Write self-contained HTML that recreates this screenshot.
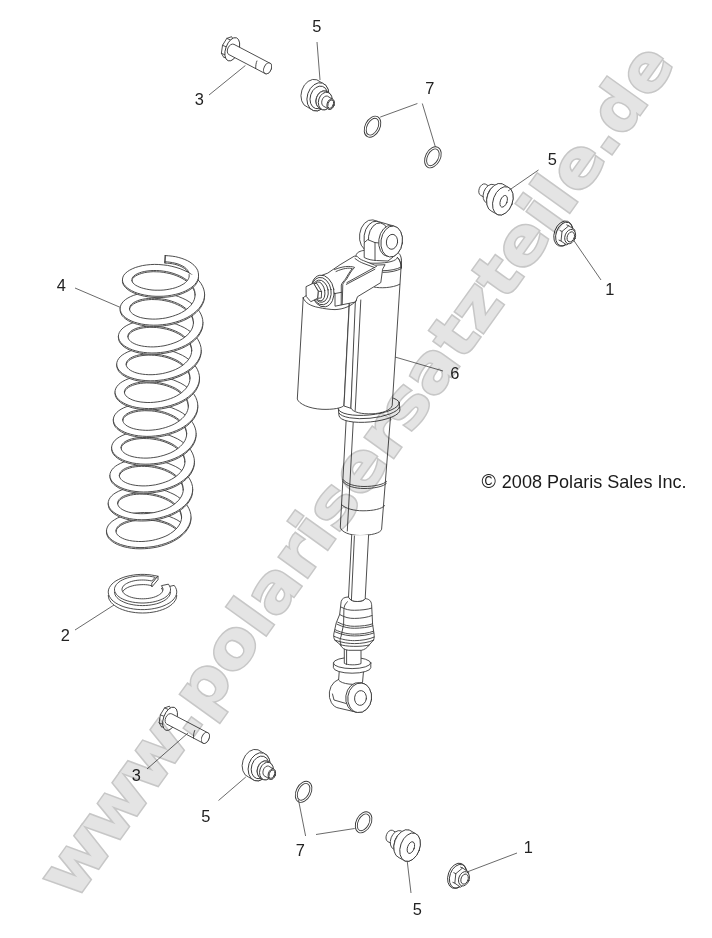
<!DOCTYPE html>
<html><head><meta charset="utf-8"><title>Shock diagram</title>
<style>
html,body{margin:0;padding:0;background:#fff;}
body{width:712px;height:938px;overflow:hidden;position:relative;font-family:"Liberation Sans",sans-serif;}
svg{position:absolute;left:0;top:0;display:block;}
.z *{vector-effect:non-scaling-stroke;}
.d{fill:#fff;stroke:#3a3a3a;stroke-width:0.9;stroke-linejoin:round;stroke-linecap:round;}
.n{fill:none;}
.lab text{font-family:"Liberation Sans",sans-serif;font-size:16.4px;fill:#222;stroke:none;}
.lead line{stroke:#444;stroke-width:0.8;}
.wm{mix-blend-mode:multiply;}
.wm text{font-family:"DejaVu Sans","Liberation Sans",sans-serif;font-weight:bold;font-size:64px;}
.wa{fill:#e4e4e4;stroke:#c7c7c7;stroke-width:3.0;stroke-linejoin:miter;paint-order:stroke fill;}
.copy{font-family:"Liberation Sans",sans-serif;font-size:18.4px;fill:#1a1a1a;}
</style></head><body>
<svg width="712" height="938" viewBox="0 0 712 938">
<rect width="712" height="938" fill="#fff"/>
<g class="d">
<g id="spring"><polygon points="164.9,261.8 167.4,261.9 169.9,262.2 172.4,262.6 174.8,263.1 177.0,263.7 179.2,264.4 181.1,265.3 182.9,266.2 184.5,267.2 185.9,268.3 187.0,269.5 187.9,270.7 188.6,272.0 189.0,273.3 189.1,274.6 189.1,275.9 189.0,274.5 188.6,273.3 187.9,272.0 187.0,270.8 185.9,269.6 184.5,268.5 182.9,267.5 181.1,266.5 179.2,265.7 177.0,264.9 174.8,264.3 172.4,263.8 169.9,263.4 167.4,263.2 164.9,263.1" stroke="none"/><polyline class="n" points="164.9,263.1 167.4,263.2 169.9,263.4 172.4,263.8 174.8,264.3 177.0,264.9 179.2,265.7 181.1,266.5 182.9,267.5 184.5,268.5 185.9,269.6 187.0,270.8 187.9,272.0 188.6,273.3 189.0,274.5 189.1,275.9"/><polygon points="165.2,255.6 168.7,255.8 172.2,256.2 175.6,256.7 178.8,257.5 181.9,258.4 184.8,259.5 187.5,260.7 190.0,262.1 192.2,263.7 194.1,265.3 195.6,267.0 196.9,268.9 197.8,270.7 198.3,272.7 198.5,274.6 189.1,274.6 189.0,273.3 188.6,272.0 187.9,270.7 187.0,269.5 185.9,268.3 184.5,267.2 182.9,266.2 181.1,265.3 179.2,264.4 177.0,263.7 174.8,263.1 172.4,262.6 169.9,262.2 167.4,261.9 164.9,261.8" stroke="none"/><polyline class="n" points="165.2,255.6 168.7,255.8 172.2,256.2 175.6,256.7 178.8,257.5 181.9,258.4 184.8,259.5 187.5,260.7 190.0,262.1 192.2,263.7 194.1,265.3 195.6,267.0 196.9,268.9 197.8,270.7 198.3,272.7 198.5,274.6"/><polyline class="n" points="164.9,261.8 167.4,261.9 169.9,262.2 172.4,262.6 174.8,263.1 177.0,263.7 179.2,264.4 181.1,265.3 182.9,266.2 184.5,267.2 185.9,268.3 187.0,269.5 187.9,270.7 188.6,272.0 189.0,273.3 189.1,274.6"/>
<polygon points="131.9,280.9 131.9,279.6 132.1,278.4 132.8,277.1 133.9,275.9 135.4,274.8 137.2,273.8 139.3,272.9 141.7,272.1 144.3,271.5 147.1,271.0 150.1,270.7 153.2,270.5 156.5,270.5 159.8,270.7 163.2,271.1 166.5,271.6 169.9,272.4 173.1,273.3 176.2,274.4 179.2,275.6 182.0,277.0 184.7,278.6 187.0,280.3 189.1,282.2 191.0,284.1 192.5,286.1 193.6,288.2 194.5,290.4 195.0,292.6 195.2,294.8 195.2,296.0 195.0,293.8 194.5,291.6 193.6,289.5 192.5,287.4 191.0,285.3 189.1,283.4 187.0,281.6 184.7,279.9 182.0,278.3 179.2,276.9 176.2,275.6 173.1,274.5 169.9,273.6 166.5,272.9 163.2,272.3 159.8,271.9 156.5,271.8 153.2,271.7 150.1,271.9 147.1,272.2 144.3,272.7 141.7,273.4 139.3,274.2 137.2,275.1 135.4,276.1 133.9,277.2 132.8,278.4 132.1,279.6 131.9,280.9 131.9,282.1" stroke="none"/><polyline class="n" points="131.9,282.1 131.9,280.9 132.1,279.6 132.8,278.4 133.9,277.2 135.4,276.1 137.2,275.1 139.3,274.2 141.7,273.4 144.3,272.7 147.1,272.2 150.1,271.9 153.2,271.7 156.5,271.8 159.8,271.9 163.2,272.3 166.5,272.9 169.9,273.6 173.1,274.5 176.2,275.6 179.2,276.9 182.0,278.3 184.7,279.9 187.0,281.6 189.1,283.4 191.0,285.3 192.5,287.4 193.6,289.5 194.5,291.6 195.0,293.8 195.2,296.0"/><polygon points="122.5,280.9 122.5,279.0 122.9,277.1 123.8,275.2 125.3,273.4 127.3,271.7 129.6,270.2 132.3,268.8 135.4,267.5 138.8,266.5 142.4,265.6 146.3,265.0 150.3,264.6 154.5,264.4 158.8,264.5 163.2,264.9 167.5,265.4 171.8,266.3 176.0,267.4 180.1,268.7 183.9,270.3 187.6,272.0 190.9,274.0 194.0,276.2 196.7,278.5 199.1,281.0 201.1,283.6 202.6,286.3 203.7,289.1 204.4,291.9 204.6,294.8 195.2,294.8 195.0,292.6 194.5,290.4 193.6,288.2 192.5,286.1 191.0,284.1 189.1,282.2 187.0,280.3 184.7,278.6 182.0,277.0 179.2,275.6 176.2,274.4 173.1,273.3 169.9,272.4 166.5,271.6 163.2,271.1 159.8,270.7 156.5,270.5 153.2,270.5 150.1,270.7 147.1,271.0 144.3,271.5 141.7,272.1 139.3,272.9 137.2,273.8 135.4,274.8 133.9,275.9 132.8,277.1 132.1,278.4 131.9,279.6 131.9,280.9" stroke="none"/><polyline class="n" points="122.5,280.9 122.5,279.0 122.9,277.1 123.8,275.2 125.3,273.4 127.3,271.7 129.6,270.2 132.3,268.8 135.4,267.5 138.8,266.5 142.4,265.6 146.3,265.0 150.3,264.6 154.5,264.4 158.8,264.5 163.2,264.9 167.5,265.4 171.8,266.3 176.0,267.4 180.1,268.7 183.9,270.3 187.6,272.0 190.9,274.0 194.0,276.2 196.7,278.5 199.1,281.0 201.1,283.6 202.6,286.3 203.7,289.1 204.4,291.9 204.6,294.8"/><polyline class="n" points="131.9,280.9 131.9,279.6 132.1,278.4 132.8,277.1 133.9,275.9 135.4,274.8 137.2,273.8 139.3,272.9 141.7,272.1 144.3,271.5 147.1,271.0 150.1,270.7 153.2,270.5 156.5,270.5 159.8,270.7 163.2,271.1 166.5,271.6 169.9,272.4 173.1,273.3 176.2,274.4 179.2,275.6 182.0,277.0 184.7,278.6 187.0,280.3 189.1,282.2 191.0,284.1 192.5,286.1 193.6,288.2 194.5,290.4 195.0,292.6 195.2,294.8"/>
<polygon points="129.5,308.7 129.7,307.4 130.2,306.1 131.0,304.9 132.2,303.7 133.7,302.6 135.5,301.6 137.6,300.7 140.0,299.9 142.6,299.3 145.4,298.8 148.4,298.5 151.5,298.3 154.8,298.3 158.1,298.5 161.5,298.9 164.8,299.4 168.2,300.2 171.4,301.1 174.5,302.2 177.5,303.4 180.4,304.8 183.0,306.4 185.3,308.1 187.4,310.0 189.3,311.9 190.8,313.9 192.0,316.0 192.8,318.2 193.3,320.4 193.5,322.6 193.5,323.8 193.3,321.6 192.8,319.4 192.0,317.3 190.8,315.2 189.3,313.1 187.4,311.2 185.3,309.4 183.0,307.7 180.4,306.1 177.5,304.7 174.5,303.4 171.4,302.3 168.2,301.4 164.8,300.7 161.5,300.1 158.1,299.7 154.8,299.6 151.5,299.5 148.4,299.7 145.4,300.0 142.6,300.5 140.0,301.2 137.6,302.0 135.5,302.9 133.7,303.9 132.2,305.0 131.0,306.2 130.2,307.4 129.7,308.7 129.5,309.9" stroke="none"/><polyline class="n" points="129.5,309.9 129.7,308.7 130.2,307.4 131.0,306.2 132.2,305.0 133.7,303.9 135.5,302.9 137.6,302.0 140.0,301.2 142.6,300.5 145.4,300.0 148.4,299.7 151.5,299.5 154.8,299.6 158.1,299.7 161.5,300.1 164.8,300.7 168.2,301.4 171.4,302.3 174.5,303.4 177.5,304.7 180.4,306.1 183.0,307.7 185.3,309.4 187.4,311.2 189.3,313.1 190.8,315.2 192.0,317.3 192.8,319.4 193.3,321.6 193.5,323.8"/><polygon points="120.1,308.7 120.3,306.8 121.0,304.8 122.1,303.0 123.6,301.2 125.6,299.5 127.9,298.0 130.6,296.6 133.7,295.3 137.1,294.3 140.7,293.4 144.6,292.8 148.6,292.4 152.8,292.2 157.1,292.3 161.5,292.7 165.8,293.2 170.1,294.1 174.3,295.2 178.4,296.5 182.2,298.1 185.9,299.8 189.2,301.8 192.3,304.0 195.0,306.3 197.4,308.8 199.4,311.4 200.9,314.1 202.0,316.9 202.7,319.7 202.9,322.6 193.5,322.6 193.3,320.4 192.8,318.2 192.0,316.0 190.8,313.9 189.3,311.9 187.4,310.0 185.3,308.1 183.0,306.4 180.4,304.8 177.5,303.4 174.5,302.2 171.4,301.1 168.2,300.2 164.8,299.4 161.5,298.9 158.1,298.5 154.8,298.3 151.5,298.3 148.4,298.5 145.4,298.8 142.6,299.3 140.0,299.9 137.6,300.7 135.5,301.6 133.7,302.6 132.2,303.7 131.0,304.9 130.2,306.1 129.7,307.4 129.5,308.7" stroke="none"/><polyline class="n" points="120.1,308.7 120.3,306.8 121.0,304.8 122.1,303.0 123.6,301.2 125.6,299.5 127.9,298.0 130.6,296.6 133.7,295.3 137.1,294.3 140.7,293.4 144.6,292.8 148.6,292.4 152.8,292.2 157.1,292.3 161.5,292.7 165.8,293.2 170.1,294.1 174.3,295.2 178.4,296.5 182.2,298.1 185.9,299.8 189.2,301.8 192.3,304.0 195.0,306.3 197.4,308.8 199.4,311.4 200.9,314.1 202.0,316.9 202.7,319.7 202.9,322.6"/><polyline class="n" points="129.5,308.7 129.7,307.4 130.2,306.1 131.0,304.9 132.2,303.7 133.7,302.6 135.5,301.6 137.6,300.7 140.0,299.9 142.6,299.3 145.4,298.8 148.4,298.5 151.5,298.3 154.8,298.3 158.1,298.5 161.5,298.9 164.8,299.4 168.2,300.2 171.4,301.1 174.5,302.2 177.5,303.4 180.4,304.8 183.0,306.4 185.3,308.1 187.4,310.0 189.3,311.9 190.8,313.9 192.0,316.0 192.8,318.2 193.3,320.4 193.5,322.6"/>
<polygon points="127.8,336.5 128.0,335.2 128.5,333.9 129.3,332.7 130.5,331.5 132.0,330.4 133.8,329.4 135.9,328.5 138.3,327.7 140.9,327.1 143.7,326.6 146.7,326.3 149.9,326.1 153.1,326.1 156.4,326.3 159.8,326.7 163.1,327.2 166.5,328.0 169.7,328.9 172.8,330.0 175.8,331.2 178.7,332.6 181.3,334.2 183.6,335.9 185.7,337.8 187.6,339.7 189.1,341.7 190.3,343.8 191.1,346.0 191.6,348.2 191.8,350.4 191.8,351.6 191.6,349.4 191.1,347.2 190.3,345.1 189.1,343.0 187.6,340.9 185.7,339.0 183.6,337.2 181.3,335.5 178.7,333.9 175.8,332.5 172.8,331.2 169.7,330.1 166.5,329.2 163.1,328.5 159.8,327.9 156.4,327.5 153.1,327.4 149.9,327.3 146.7,327.5 143.7,327.8 140.9,328.3 138.3,329.0 135.9,329.8 133.8,330.7 132.0,331.7 130.5,332.8 129.3,334.0 128.5,335.2 128.0,336.5 127.8,337.8" stroke="none"/><polyline class="n" points="127.8,337.8 128.0,336.5 128.5,335.2 129.3,334.0 130.5,332.8 132.0,331.7 133.8,330.7 135.9,329.8 138.3,329.0 140.9,328.3 143.7,327.8 146.7,327.5 149.9,327.3 153.1,327.4 156.4,327.5 159.8,327.9 163.1,328.5 166.5,329.2 169.7,330.1 172.8,331.2 175.8,332.5 178.7,333.9 181.3,335.5 183.6,337.2 185.7,339.0 187.6,340.9 189.1,343.0 190.3,345.1 191.1,347.2 191.6,349.4 191.8,351.6"/><polygon points="118.4,336.5 118.6,334.6 119.3,332.6 120.4,330.8 121.9,329.0 123.9,327.3 126.2,325.8 128.9,324.4 132.0,323.1 135.4,322.1 139.0,321.2 142.9,320.6 146.9,320.2 151.1,320.0 155.4,320.1 159.8,320.5 164.1,321.0 168.4,321.9 172.6,323.0 176.7,324.3 180.5,325.9 184.2,327.6 187.5,329.6 190.6,331.8 193.3,334.1 195.7,336.6 197.7,339.2 199.2,341.9 200.3,344.7 201.0,347.5 201.2,350.4 191.8,350.4 191.6,348.2 191.1,346.0 190.3,343.8 189.1,341.7 187.6,339.7 185.7,337.8 183.6,335.9 181.3,334.2 178.7,332.6 175.8,331.2 172.8,330.0 169.7,328.9 166.5,328.0 163.1,327.2 159.8,326.7 156.4,326.3 153.1,326.1 149.9,326.1 146.7,326.3 143.7,326.6 140.9,327.1 138.3,327.7 135.9,328.5 133.8,329.4 132.0,330.4 130.5,331.5 129.3,332.7 128.5,333.9 128.0,335.2 127.8,336.5" stroke="none"/><polyline class="n" points="118.4,336.5 118.6,334.6 119.3,332.6 120.4,330.8 121.9,329.0 123.9,327.3 126.2,325.8 128.9,324.4 132.0,323.1 135.4,322.1 139.0,321.2 142.9,320.6 146.9,320.2 151.1,320.0 155.4,320.1 159.8,320.5 164.1,321.0 168.4,321.9 172.6,323.0 176.7,324.3 180.5,325.9 184.2,327.6 187.5,329.6 190.6,331.8 193.3,334.1 195.7,336.6 197.7,339.2 199.2,341.9 200.3,344.7 201.0,347.5 201.2,350.4"/><polyline class="n" points="127.8,336.5 128.0,335.2 128.5,333.9 129.3,332.7 130.5,331.5 132.0,330.4 133.8,329.4 135.9,328.5 138.3,327.7 140.9,327.1 143.7,326.6 146.7,326.3 149.9,326.1 153.1,326.1 156.4,326.3 159.8,326.7 163.1,327.2 166.5,328.0 169.7,328.9 172.8,330.0 175.8,331.2 178.7,332.6 181.3,334.2 183.6,335.9 185.7,337.8 187.6,339.7 189.1,341.7 190.3,343.8 191.1,346.0 191.6,348.2 191.8,350.4"/>
<polygon points="126.1,364.3 126.3,363.0 126.8,361.7 127.6,360.5 128.8,359.3 130.3,358.2 132.1,357.2 134.2,356.3 136.6,355.5 139.2,354.9 142.0,354.4 145.0,354.1 148.2,353.9 151.4,353.9 154.7,354.1 158.1,354.5 161.4,355.0 164.8,355.8 168.0,356.7 171.1,357.8 174.1,359.0 177.0,360.4 179.6,362.0 181.9,363.7 184.0,365.6 185.9,367.5 187.4,369.5 188.6,371.6 189.4,373.8 189.9,376.0 190.1,378.2 190.1,379.4 189.9,377.2 189.4,375.0 188.6,372.9 187.4,370.8 185.9,368.7 184.0,366.8 181.9,365.0 179.6,363.3 177.0,361.7 174.1,360.3 171.1,359.0 168.0,357.9 164.8,357.0 161.4,356.3 158.1,355.7 154.7,355.3 151.4,355.2 148.2,355.1 145.0,355.3 142.0,355.6 139.2,356.1 136.6,356.8 134.2,357.6 132.1,358.5 130.3,359.5 128.8,360.6 127.6,361.8 126.8,363.0 126.3,364.3 126.1,365.5" stroke="none"/><polyline class="n" points="126.1,365.5 126.3,364.3 126.8,363.0 127.6,361.8 128.8,360.6 130.3,359.5 132.1,358.5 134.2,357.6 136.6,356.8 139.2,356.1 142.0,355.6 145.0,355.3 148.2,355.1 151.4,355.2 154.7,355.3 158.1,355.7 161.4,356.3 164.8,357.0 168.0,357.9 171.1,359.0 174.1,360.3 177.0,361.7 179.6,363.3 181.9,365.0 184.0,366.8 185.9,368.7 187.4,370.8 188.6,372.9 189.4,375.0 189.9,377.2 190.1,379.4"/><polygon points="116.7,364.3 116.9,362.4 117.6,360.4 118.7,358.6 120.2,356.8 122.2,355.1 124.5,353.6 127.2,352.2 130.3,350.9 133.7,349.9 137.3,349.0 141.2,348.4 145.2,348.0 149.4,347.8 153.7,347.9 158.1,348.3 162.4,348.8 166.7,349.7 170.9,350.8 175.0,352.1 178.8,353.7 182.5,355.4 185.9,357.4 188.9,359.6 191.6,361.9 194.0,364.4 196.0,367.0 197.5,369.7 198.6,372.5 199.3,375.3 199.5,378.2 190.1,378.2 189.9,376.0 189.4,373.8 188.6,371.6 187.4,369.5 185.9,367.5 184.0,365.6 181.9,363.7 179.6,362.0 177.0,360.4 174.1,359.0 171.1,357.8 168.0,356.7 164.8,355.8 161.4,355.0 158.1,354.5 154.7,354.1 151.4,353.9 148.2,353.9 145.0,354.1 142.0,354.4 139.2,354.9 136.6,355.5 134.2,356.3 132.1,357.2 130.3,358.2 128.8,359.3 127.6,360.5 126.8,361.7 126.3,363.0 126.1,364.3" stroke="none"/><polyline class="n" points="116.7,364.3 116.9,362.4 117.6,360.4 118.7,358.6 120.2,356.8 122.2,355.1 124.5,353.6 127.2,352.2 130.3,350.9 133.7,349.9 137.3,349.0 141.2,348.4 145.2,348.0 149.4,347.8 153.7,347.9 158.1,348.3 162.4,348.8 166.7,349.7 170.9,350.8 175.0,352.1 178.8,353.7 182.5,355.4 185.9,357.4 188.9,359.6 191.6,361.9 194.0,364.4 196.0,367.0 197.5,369.7 198.6,372.5 199.3,375.3 199.5,378.2"/><polyline class="n" points="126.1,364.3 126.3,363.0 126.8,361.7 127.6,360.5 128.8,359.3 130.3,358.2 132.1,357.2 134.2,356.3 136.6,355.5 139.2,354.9 142.0,354.4 145.0,354.1 148.2,353.9 151.4,353.9 154.7,354.1 158.1,354.5 161.4,355.0 164.8,355.8 168.0,356.7 171.1,357.8 174.1,359.0 177.0,360.4 179.6,362.0 181.9,363.7 184.0,365.6 185.9,367.5 187.4,369.5 188.6,371.6 189.4,373.8 189.9,376.0 190.1,378.2"/>
<polygon points="124.4,392.1 124.6,390.8 125.1,389.5 125.9,388.3 127.1,387.1 128.6,386.0 130.4,385.0 132.5,384.1 134.9,383.3 137.5,382.7 140.3,382.2 143.3,381.9 146.5,381.7 149.7,381.7 153.0,381.9 156.4,382.3 159.7,382.8 163.1,383.6 166.3,384.5 169.4,385.6 172.4,386.8 175.3,388.2 177.9,389.8 180.2,391.5 182.3,393.4 184.2,395.3 185.7,397.3 186.9,399.4 187.7,401.6 188.2,403.8 188.4,406.0 188.4,407.2 188.2,405.0 187.7,402.8 186.9,400.7 185.7,398.6 184.2,396.5 182.3,394.6 180.2,392.8 177.9,391.1 175.3,389.5 172.4,388.1 169.4,386.8 166.3,385.7 163.1,384.8 159.7,384.1 156.4,383.5 153.0,383.1 149.7,383.0 146.5,382.9 143.3,383.1 140.3,383.4 137.5,383.9 134.9,384.6 132.5,385.4 130.4,386.3 128.6,387.3 127.1,388.4 125.9,389.6 125.1,390.8 124.6,392.1 124.4,393.3" stroke="none"/><polyline class="n" points="124.4,393.3 124.6,392.1 125.1,390.8 125.9,389.6 127.1,388.4 128.6,387.3 130.4,386.3 132.5,385.4 134.9,384.6 137.5,383.9 140.3,383.4 143.3,383.1 146.5,382.9 149.7,383.0 153.0,383.1 156.4,383.5 159.7,384.1 163.1,384.8 166.3,385.7 169.4,386.8 172.4,388.1 175.3,389.5 177.9,391.1 180.2,392.8 182.3,394.6 184.2,396.5 185.7,398.6 186.9,400.7 187.7,402.8 188.2,405.0 188.4,407.2"/><polygon points="115.0,392.1 115.2,390.2 115.9,388.2 117.0,386.4 118.5,384.6 120.5,382.9 122.8,381.4 125.5,380.0 128.6,378.7 132.0,377.7 135.6,376.8 139.5,376.2 143.5,375.8 147.7,375.6 152.0,375.7 156.4,376.1 160.7,376.6 165.0,377.5 169.2,378.6 173.3,379.9 177.1,381.5 180.8,383.2 184.2,385.2 187.2,387.4 189.9,389.7 192.3,392.2 194.3,394.8 195.8,397.5 196.9,400.3 197.6,403.1 197.8,406.0 188.4,406.0 188.2,403.8 187.7,401.6 186.9,399.4 185.7,397.3 184.2,395.3 182.3,393.4 180.2,391.5 177.9,389.8 175.3,388.2 172.4,386.8 169.4,385.6 166.3,384.5 163.1,383.6 159.7,382.8 156.4,382.3 153.0,381.9 149.7,381.7 146.5,381.7 143.3,381.9 140.3,382.2 137.5,382.7 134.9,383.3 132.5,384.1 130.4,385.0 128.6,386.0 127.1,387.1 125.9,388.3 125.1,389.5 124.6,390.8 124.4,392.1" stroke="none"/><polyline class="n" points="115.0,392.1 115.2,390.2 115.9,388.2 117.0,386.4 118.5,384.6 120.5,382.9 122.8,381.4 125.5,380.0 128.6,378.7 132.0,377.7 135.6,376.8 139.5,376.2 143.5,375.8 147.7,375.6 152.0,375.7 156.4,376.1 160.7,376.6 165.0,377.5 169.2,378.6 173.3,379.9 177.1,381.5 180.8,383.2 184.2,385.2 187.2,387.4 189.9,389.7 192.3,392.2 194.3,394.8 195.8,397.5 196.9,400.3 197.6,403.1 197.8,406.0"/><polyline class="n" points="124.4,392.1 124.6,390.8 125.1,389.5 125.9,388.3 127.1,387.1 128.6,386.0 130.4,385.0 132.5,384.1 134.9,383.3 137.5,382.7 140.3,382.2 143.3,381.9 146.5,381.7 149.7,381.7 153.0,381.9 156.4,382.3 159.7,382.8 163.1,383.6 166.3,384.5 169.4,385.6 172.4,386.8 175.3,388.2 177.9,389.8 180.2,391.5 182.3,393.4 184.2,395.3 185.7,397.3 186.9,399.4 187.7,401.6 188.2,403.8 188.4,406.0"/>
<polygon points="122.7,419.9 122.9,418.6 123.4,417.3 124.2,416.1 125.4,414.9 126.9,413.8 128.7,412.8 130.8,411.9 133.2,411.1 135.8,410.5 138.6,410.0 141.6,409.7 144.8,409.5 148.0,409.5 151.3,409.7 154.7,410.1 158.0,410.6 161.4,411.4 164.6,412.3 167.7,413.4 170.7,414.6 173.6,416.0 176.2,417.6 178.5,419.3 180.6,421.2 182.5,423.1 184.0,425.1 185.2,427.2 186.0,429.4 186.5,431.6 186.7,433.8 186.7,435.0 186.5,432.8 186.0,430.6 185.2,428.5 184.0,426.4 182.5,424.3 180.6,422.4 178.5,420.6 176.2,418.9 173.6,417.3 170.7,415.9 167.7,414.6 164.6,413.5 161.4,412.6 158.0,411.9 154.7,411.3 151.3,410.9 148.0,410.8 144.8,410.7 141.6,410.9 138.6,411.2 135.8,411.7 133.2,412.4 130.8,413.2 128.7,414.1 126.9,415.1 125.4,416.2 124.2,417.4 123.4,418.6 122.9,419.9 122.7,421.1" stroke="none"/><polyline class="n" points="122.7,421.1 122.9,419.9 123.4,418.6 124.2,417.4 125.4,416.2 126.9,415.1 128.7,414.1 130.8,413.2 133.2,412.4 135.8,411.7 138.6,411.2 141.6,410.9 144.8,410.7 148.0,410.8 151.3,410.9 154.7,411.3 158.0,411.9 161.4,412.6 164.6,413.5 167.7,414.6 170.7,415.9 173.6,417.3 176.2,418.9 178.5,420.6 180.6,422.4 182.5,424.3 184.0,426.4 185.2,428.5 186.0,430.6 186.5,432.8 186.7,435.0"/><polygon points="113.3,419.9 113.5,418.0 114.2,416.0 115.3,414.2 116.8,412.4 118.8,410.7 121.1,409.2 123.8,407.8 126.9,406.5 130.3,405.5 133.9,404.6 137.8,404.0 141.9,403.6 146.0,403.4 150.3,403.5 154.7,403.9 159.0,404.4 163.3,405.3 167.5,406.4 171.6,407.7 175.4,409.3 179.1,411.0 182.5,413.0 185.5,415.2 188.2,417.5 190.6,420.0 192.6,422.6 194.1,425.3 195.2,428.1 195.9,430.9 196.1,433.8 186.7,433.8 186.5,431.6 186.0,429.4 185.2,427.2 184.0,425.1 182.5,423.1 180.6,421.2 178.5,419.3 176.2,417.6 173.6,416.0 170.7,414.6 167.7,413.4 164.6,412.3 161.4,411.4 158.0,410.6 154.7,410.1 151.3,409.7 148.0,409.5 144.8,409.5 141.6,409.7 138.6,410.0 135.8,410.5 133.2,411.1 130.8,411.9 128.7,412.8 126.9,413.8 125.4,414.9 124.2,416.1 123.4,417.3 122.9,418.6 122.7,419.9" stroke="none"/><polyline class="n" points="113.3,419.9 113.5,418.0 114.2,416.0 115.3,414.2 116.8,412.4 118.8,410.7 121.1,409.2 123.8,407.8 126.9,406.5 130.3,405.5 133.9,404.6 137.8,404.0 141.9,403.6 146.0,403.4 150.3,403.5 154.7,403.9 159.0,404.4 163.3,405.3 167.5,406.4 171.6,407.7 175.4,409.3 179.1,411.0 182.5,413.0 185.5,415.2 188.2,417.5 190.6,420.0 192.6,422.6 194.1,425.3 195.2,428.1 195.9,430.9 196.1,433.8"/><polyline class="n" points="122.7,419.9 122.9,418.6 123.4,417.3 124.2,416.1 125.4,414.9 126.9,413.8 128.7,412.8 130.8,411.9 133.2,411.1 135.8,410.5 138.6,410.0 141.6,409.7 144.8,409.5 148.0,409.5 151.3,409.7 154.7,410.1 158.0,410.6 161.4,411.4 164.6,412.3 167.7,413.4 170.7,414.6 173.6,416.0 176.2,417.6 178.5,419.3 180.6,421.2 182.5,423.1 184.0,425.1 185.2,427.2 186.0,429.4 186.5,431.6 186.7,433.8"/>
<polygon points="121.0,447.7 121.2,446.4 121.7,445.1 122.5,443.9 123.7,442.7 125.2,441.6 127.0,440.6 129.1,439.7 131.5,438.9 134.1,438.3 136.9,437.8 139.9,437.5 143.1,437.3 146.3,437.3 149.6,437.5 153.0,437.9 156.3,438.4 159.7,439.2 162.9,440.1 166.0,441.2 169.0,442.4 171.9,443.8 174.5,445.4 176.8,447.1 178.9,449.0 180.8,450.9 182.3,452.9 183.5,455.0 184.3,457.2 184.8,459.4 185.0,461.6 185.0,462.8 184.8,460.6 184.3,458.4 183.5,456.3 182.3,454.2 180.8,452.1 178.9,450.2 176.8,448.4 174.5,446.7 171.9,445.1 169.0,443.7 166.0,442.4 162.9,441.3 159.7,440.4 156.3,439.7 153.0,439.1 149.6,438.7 146.3,438.6 143.1,438.5 139.9,438.7 136.9,439.0 134.1,439.5 131.5,440.2 129.1,441.0 127.0,441.9 125.2,442.9 123.7,444.0 122.5,445.2 121.7,446.4 121.2,447.7 121.0,448.9" stroke="none"/><polyline class="n" points="121.0,448.9 121.2,447.7 121.7,446.4 122.5,445.2 123.7,444.0 125.2,442.9 127.0,441.9 129.1,441.0 131.5,440.2 134.1,439.5 136.9,439.0 139.9,438.7 143.1,438.5 146.3,438.6 149.6,438.7 153.0,439.1 156.3,439.7 159.7,440.4 162.9,441.3 166.0,442.4 169.0,443.7 171.9,445.1 174.5,446.7 176.8,448.4 178.9,450.2 180.8,452.1 182.3,454.2 183.5,456.3 184.3,458.4 184.8,460.6 185.0,462.8"/><polygon points="111.6,447.7 111.8,445.8 112.5,443.8 113.6,442.0 115.1,440.2 117.1,438.5 119.4,437.0 122.1,435.6 125.2,434.3 128.6,433.3 132.2,432.4 136.1,431.8 140.2,431.4 144.3,431.2 148.6,431.3 153.0,431.7 157.3,432.2 161.6,433.1 165.8,434.2 169.9,435.5 173.7,437.1 177.4,438.8 180.8,440.8 183.8,443.0 186.5,445.3 188.9,447.8 190.9,450.4 192.4,453.1 193.5,455.9 194.2,458.7 194.4,461.6 185.0,461.6 184.8,459.4 184.3,457.2 183.5,455.0 182.3,452.9 180.8,450.9 178.9,449.0 176.8,447.1 174.5,445.4 171.9,443.8 169.0,442.4 166.0,441.2 162.9,440.1 159.7,439.2 156.3,438.4 153.0,437.9 149.6,437.5 146.3,437.3 143.1,437.3 139.9,437.5 136.9,437.8 134.1,438.3 131.5,438.9 129.1,439.7 127.0,440.6 125.2,441.6 123.7,442.7 122.5,443.9 121.7,445.1 121.2,446.4 121.0,447.7" stroke="none"/><polyline class="n" points="111.6,447.7 111.8,445.8 112.5,443.8 113.6,442.0 115.1,440.2 117.1,438.5 119.4,437.0 122.1,435.6 125.2,434.3 128.6,433.3 132.2,432.4 136.1,431.8 140.2,431.4 144.3,431.2 148.6,431.3 153.0,431.7 157.3,432.2 161.6,433.1 165.8,434.2 169.9,435.5 173.7,437.1 177.4,438.8 180.8,440.8 183.8,443.0 186.5,445.3 188.9,447.8 190.9,450.4 192.4,453.1 193.5,455.9 194.2,458.7 194.4,461.6"/><polyline class="n" points="121.0,447.7 121.2,446.4 121.7,445.1 122.5,443.9 123.7,442.7 125.2,441.6 127.0,440.6 129.1,439.7 131.5,438.9 134.1,438.3 136.9,437.8 139.9,437.5 143.1,437.3 146.3,437.3 149.6,437.5 153.0,437.9 156.3,438.4 159.7,439.2 162.9,440.1 166.0,441.2 169.0,442.4 171.9,443.8 174.5,445.4 176.8,447.1 178.9,449.0 180.8,450.9 182.3,452.9 183.5,455.0 184.3,457.2 184.8,459.4 185.0,461.6"/>
<polygon points="119.3,475.5 119.5,474.2 120.0,472.9 120.8,471.7 122.0,470.5 123.5,469.4 125.3,468.4 127.4,467.5 129.8,466.7 132.4,466.1 135.2,465.6 138.2,465.3 141.4,465.1 144.6,465.1 147.9,465.3 151.3,465.7 154.6,466.2 158.0,467.0 161.2,467.9 164.4,469.0 167.3,470.2 170.2,471.6 172.8,473.2 175.1,474.9 177.2,476.8 179.1,478.7 180.6,480.7 181.8,482.8 182.6,485.0 183.1,487.2 183.3,489.4 183.3,490.6 183.1,488.4 182.6,486.2 181.8,484.1 180.6,482.0 179.1,479.9 177.2,478.0 175.1,476.2 172.8,474.5 170.2,472.9 167.3,471.5 164.4,470.2 161.2,469.1 158.0,468.2 154.6,467.5 151.3,466.9 147.9,466.5 144.6,466.4 141.4,466.3 138.2,466.5 135.2,466.8 132.4,467.3 129.8,468.0 127.4,468.8 125.3,469.7 123.5,470.7 122.0,471.8 120.8,473.0 120.0,474.2 119.5,475.5 119.3,476.7" stroke="none"/><polyline class="n" points="119.3,476.7 119.5,475.5 120.0,474.2 120.8,473.0 122.0,471.8 123.5,470.7 125.3,469.7 127.4,468.8 129.8,468.0 132.4,467.3 135.2,466.8 138.2,466.5 141.4,466.3 144.6,466.4 147.9,466.5 151.3,466.9 154.6,467.5 158.0,468.2 161.2,469.1 164.4,470.2 167.3,471.5 170.2,472.9 172.8,474.5 175.1,476.2 177.2,478.0 179.1,479.9 180.6,482.0 181.8,484.1 182.6,486.2 183.1,488.4 183.3,490.6"/><polygon points="109.9,475.5 110.1,473.6 110.8,471.6 111.9,469.8 113.4,468.0 115.4,466.3 117.7,464.8 120.4,463.4 123.5,462.1 126.9,461.1 130.5,460.2 134.4,459.6 138.5,459.2 142.7,459.0 146.9,459.1 151.3,459.5 155.6,460.0 159.9,460.9 164.1,462.0 168.2,463.3 172.0,464.9 175.7,466.6 179.1,468.6 182.1,470.8 184.8,473.1 187.2,475.6 189.2,478.2 190.7,480.9 191.8,483.7 192.5,486.5 192.7,489.4 183.3,489.4 183.1,487.2 182.6,485.0 181.8,482.8 180.6,480.7 179.1,478.7 177.2,476.8 175.1,474.9 172.8,473.2 170.2,471.6 167.3,470.2 164.4,469.0 161.2,467.9 158.0,467.0 154.6,466.2 151.3,465.7 147.9,465.3 144.6,465.1 141.4,465.1 138.2,465.3 135.2,465.6 132.4,466.1 129.8,466.7 127.4,467.5 125.3,468.4 123.5,469.4 122.0,470.5 120.8,471.7 120.0,472.9 119.5,474.2 119.3,475.5" stroke="none"/><polyline class="n" points="109.9,475.5 110.1,473.6 110.8,471.6 111.9,469.8 113.4,468.0 115.4,466.3 117.7,464.8 120.4,463.4 123.5,462.1 126.9,461.1 130.5,460.2 134.4,459.6 138.5,459.2 142.7,459.0 146.9,459.1 151.3,459.5 155.6,460.0 159.9,460.9 164.1,462.0 168.2,463.3 172.0,464.9 175.7,466.6 179.1,468.6 182.1,470.8 184.8,473.1 187.2,475.6 189.2,478.2 190.7,480.9 191.8,483.7 192.5,486.5 192.7,489.4"/><polyline class="n" points="119.3,475.5 119.5,474.2 120.0,472.9 120.8,471.7 122.0,470.5 123.5,469.4 125.3,468.4 127.4,467.5 129.8,466.7 132.4,466.1 135.2,465.6 138.2,465.3 141.4,465.1 144.6,465.1 147.9,465.3 151.3,465.7 154.6,466.2 158.0,467.0 161.2,467.9 164.4,469.0 167.3,470.2 170.2,471.6 172.8,473.2 175.1,474.9 177.2,476.8 179.1,478.7 180.6,480.7 181.8,482.8 182.6,485.0 183.1,487.2 183.3,489.4"/>
<polygon points="117.6,503.3 117.8,502.0 118.3,500.7 119.1,499.5 120.3,498.3 121.8,497.2 123.6,496.2 125.7,495.3 128.1,494.5 130.7,493.9 133.5,493.4 136.5,493.1 139.7,492.9 142.9,492.9 146.2,493.1 149.6,493.5 152.9,494.0 156.3,494.8 159.5,495.7 162.7,496.8 165.6,498.0 168.5,499.4 171.1,501.0 173.4,502.7 175.5,504.6 177.4,506.5 178.9,508.5 180.1,510.6 180.9,512.8 181.4,515.0 181.6,517.2 181.6,518.5 181.4,516.2 180.9,514.0 180.1,511.9 178.9,509.8 177.4,507.7 175.5,505.8 173.4,504.0 171.1,502.3 168.5,500.7 165.6,499.3 162.7,498.0 159.5,496.9 156.3,496.0 152.9,495.3 149.6,494.7 146.2,494.3 142.9,494.2 139.7,494.1 136.5,494.3 133.5,494.6 130.7,495.1 128.1,495.8 125.7,496.6 123.6,497.5 121.8,498.5 120.3,499.6 119.1,500.8 118.3,502.0 117.8,503.3 117.6,504.5" stroke="none"/><polyline class="n" points="117.6,504.5 117.8,503.3 118.3,502.0 119.1,500.8 120.3,499.6 121.8,498.5 123.6,497.5 125.7,496.6 128.1,495.8 130.7,495.1 133.5,494.6 136.5,494.3 139.7,494.1 142.9,494.2 146.2,494.3 149.6,494.7 152.9,495.3 156.3,496.0 159.5,496.9 162.7,498.0 165.6,499.3 168.5,500.7 171.1,502.3 173.4,504.0 175.5,505.8 177.4,507.7 178.9,509.8 180.1,511.9 180.9,514.0 181.4,516.2 181.6,518.5"/><polygon points="108.2,503.3 108.4,501.4 109.1,499.4 110.2,497.6 111.7,495.8 113.7,494.1 116.0,492.6 118.7,491.2 121.8,489.9 125.2,488.9 128.8,488.0 132.7,487.4 136.8,487.0 141.0,486.8 145.2,486.9 149.6,487.3 153.9,487.8 158.2,488.7 162.4,489.8 166.5,491.1 170.3,492.7 174.0,494.4 177.4,496.4 180.4,498.6 183.1,500.9 185.5,503.4 187.5,506.0 189.0,508.7 190.1,511.5 190.8,514.3 191.0,517.2 181.6,517.2 181.4,515.0 180.9,512.8 180.1,510.6 178.9,508.5 177.4,506.5 175.5,504.6 173.4,502.7 171.1,501.0 168.5,499.4 165.6,498.0 162.7,496.8 159.5,495.7 156.3,494.8 152.9,494.0 149.6,493.5 146.2,493.1 142.9,492.9 139.7,492.9 136.5,493.1 133.5,493.4 130.7,493.9 128.1,494.5 125.7,495.3 123.6,496.2 121.8,497.2 120.3,498.3 119.1,499.5 118.3,500.7 117.8,502.0 117.6,503.3" stroke="none"/><polyline class="n" points="108.2,503.3 108.4,501.4 109.1,499.4 110.2,497.6 111.7,495.8 113.7,494.1 116.0,492.6 118.7,491.2 121.8,489.9 125.2,488.9 128.8,488.0 132.7,487.4 136.8,487.0 141.0,486.8 145.2,486.9 149.6,487.3 153.9,487.8 158.2,488.7 162.4,489.8 166.5,491.1 170.3,492.7 174.0,494.4 177.4,496.4 180.4,498.6 183.1,500.9 185.5,503.4 187.5,506.0 189.0,508.7 190.1,511.5 190.8,514.3 191.0,517.2"/><polyline class="n" points="117.6,503.3 117.8,502.0 118.3,500.7 119.1,499.5 120.3,498.3 121.8,497.2 123.6,496.2 125.7,495.3 128.1,494.5 130.7,493.9 133.5,493.4 136.5,493.1 139.7,492.9 142.9,492.9 146.2,493.1 149.6,493.5 152.9,494.0 156.3,494.8 159.5,495.7 162.7,496.8 165.6,498.0 168.5,499.4 171.1,501.0 173.4,502.7 175.5,504.6 177.4,506.5 178.9,508.5 180.1,510.6 180.9,512.8 181.4,515.0 181.6,517.2"/>
<polygon points="115.9,531.1 116.1,529.7 116.6,528.4 117.5,527.0 118.7,525.7 120.2,524.5 122.1,523.4 124.3,522.3 126.7,521.4 129.4,520.5 132.3,519.9 135.3,519.3 138.6,518.9 141.9,518.7 145.3,518.7 148.7,518.8 152.1,519.1 155.5,519.6 158.8,520.2 161.9,521.0 164.9,522.0 167.8,523.1 170.4,524.3 172.7,525.7 174.8,527.1 176.6,528.7 178.0,530.3 178.0,531.6 176.6,529.9 174.8,528.4 172.7,526.9 170.4,525.6 167.8,524.3 164.9,523.2 161.9,522.3 158.8,521.5 155.5,520.8 152.1,520.4 148.7,520.1 145.3,519.9 141.9,520.0 138.6,520.2 135.3,520.6 132.3,521.1 129.4,521.8 126.7,522.6 124.3,523.6 122.1,524.6 120.2,525.8 118.7,527.0 117.5,528.3 116.6,529.6 116.1,531.0 115.9,532.3" stroke="none"/><polyline class="n" points="115.9,532.3 116.1,531.0 116.6,529.6 117.5,528.3 118.7,527.0 120.2,525.8 122.1,524.6 124.3,523.6 126.7,522.6 129.4,521.8 132.3,521.1 135.3,520.6 138.6,520.2 141.9,520.0 145.3,519.9 148.7,520.1 152.1,520.4 155.5,520.8 158.8,521.5 161.9,522.3 164.9,523.2 167.8,524.3 170.4,525.6 172.7,526.9 174.8,528.4 176.6,529.9 178.0,531.6"/><polygon points="106.5,531.1 106.7,529.1 107.4,527.1 108.5,525.1 110.1,523.2 112.1,521.4 114.6,519.7 117.4,518.1 120.5,516.7 124.0,515.5 127.7,514.4 131.7,513.6 135.8,513.0 140.1,512.7 144.5,512.5 148.9,512.6 153.3,513.0 157.6,513.6 161.9,514.4 166.0,515.4 169.9,516.7 173.5,518.2 176.9,519.8 179.9,521.7 182.6,523.7 184.9,525.8 186.7,528.0 178.0,530.3 176.6,528.7 174.8,527.1 172.7,525.7 170.4,524.3 167.8,523.1 164.9,522.0 161.9,521.0 158.8,520.2 155.5,519.6 152.1,519.1 148.7,518.8 145.3,518.7 141.9,518.7 138.6,518.9 135.3,519.3 132.3,519.9 129.4,520.5 126.7,521.4 124.3,522.3 122.1,523.4 120.2,524.5 118.7,525.7 117.5,527.0 116.6,528.4 116.1,529.7 115.9,531.1" stroke="none"/><polyline class="n" points="106.5,531.1 106.7,529.1 107.4,527.1 108.5,525.1 110.1,523.2 112.1,521.4 114.6,519.7 117.4,518.1 120.5,516.7 124.0,515.5 127.7,514.4 131.7,513.6 135.8,513.0 140.1,512.7 144.5,512.5 148.9,512.6 153.3,513.0 157.6,513.6 161.9,514.4 166.0,515.4 169.9,516.7 173.5,518.2 176.9,519.8 179.9,521.7 182.6,523.7 184.9,525.8 186.7,528.0"/><polyline class="n" points="115.9,531.1 116.1,529.7 116.6,528.4 117.5,527.0 118.7,525.7 120.2,524.5 122.1,523.4 124.3,522.3 126.7,521.4 129.4,520.5 132.3,519.9 135.3,519.3 138.6,518.9 141.9,518.7 145.3,518.7 148.7,518.8 152.1,519.1 155.5,519.6 158.8,520.2 161.9,521.0 164.9,522.0 167.8,523.1 170.4,524.3 172.7,525.7 174.8,527.1 176.6,528.7 178.0,530.3"/>
<polygon points="165.2,255.6 164.9,261.8 164.9,263.1 165.2,256.9"/>
<polygon points="198.5,274.6 198.5,276.6 198.2,278.6 197.4,280.6 196.3,282.5 194.8,284.4 193.0,286.2 190.8,287.9 188.2,289.5 185.4,291.0 182.3,292.3 179.0,293.5 175.4,294.4 171.7,295.2 167.9,295.8 163.9,296.2 160.0,296.3 156.0,296.3 152.0,296.1 148.2,295.6 144.4,295.0 140.9,294.2 137.5,293.2 134.4,292.0 131.6,290.7 129.1,289.2 127.0,287.7 125.3,286.1 123.9,284.4 123.0,282.6 122.5,280.9 122.5,282.1 123.0,283.9 123.9,285.6 125.3,287.3 127.0,288.9 129.1,290.5 131.6,291.9 134.4,293.2 137.5,294.4 140.9,295.4 144.4,296.2 148.2,296.9 152.0,297.3 156.0,297.6 160.0,297.6 163.9,297.4 167.9,297.0 171.7,296.5 175.4,295.7 179.0,294.7 182.3,293.6 185.4,292.2 188.2,290.8 190.8,289.2 193.0,287.5 194.8,285.7 196.3,283.8 197.4,281.8 198.2,279.8 198.5,277.8 198.5,275.9" stroke="none"/><polyline class="n" points="198.5,275.9 198.5,277.8 198.2,279.8 197.4,281.8 196.3,283.8 194.8,285.7 193.0,287.5 190.8,289.2 188.2,290.8 185.4,292.2 182.3,293.6 179.0,294.7 175.4,295.7 171.7,296.5 167.9,297.0 163.9,297.4 160.0,297.6 156.0,297.6 152.0,297.3 148.2,296.9 144.4,296.2 140.9,295.4 137.5,294.4 134.4,293.2 131.6,291.9 129.1,290.5 127.0,288.9 125.3,287.3 123.9,285.6 123.0,283.9 122.5,282.1"/><polygon points="198.5,274.6 198.5,276.6 198.2,278.6 197.4,280.6 196.3,282.5 194.8,284.4 193.0,286.2 190.8,287.9 188.2,289.5 185.4,291.0 182.3,292.3 179.0,293.5 175.4,294.4 171.7,295.2 167.9,295.8 163.9,296.2 160.0,296.3 156.0,296.3 152.0,296.1 148.2,295.6 144.4,295.0 140.9,294.2 137.5,293.2 134.4,292.0 131.6,290.7 129.1,289.2 127.0,287.7 125.3,286.1 123.9,284.4 123.0,282.6 122.5,280.9 131.9,280.9 132.4,282.0 133.1,283.1 134.2,284.1 135.6,285.2 137.3,286.1 139.2,287.0 141.4,287.8 143.8,288.5 146.4,289.1 149.1,289.6 152.0,290.0 154.9,290.2 157.9,290.2 160.9,290.2 163.9,290.0 166.9,289.6 169.8,289.1 172.5,288.5 175.2,287.8 177.6,286.9 179.9,286.0 181.9,284.9 183.8,283.8 185.4,282.6 186.7,281.3 187.7,280.0 188.5,278.7 189.0,277.3 189.2,275.9 189.1,274.6" stroke="none"/><polyline class="n" points="198.5,274.6 198.5,276.6 198.2,278.6 197.4,280.6 196.3,282.5 194.8,284.4 193.0,286.2 190.8,287.9 188.2,289.5 185.4,291.0 182.3,292.3 179.0,293.5 175.4,294.4 171.7,295.2 167.9,295.8 163.9,296.2 160.0,296.3 156.0,296.3 152.0,296.1 148.2,295.6 144.4,295.0 140.9,294.2 137.5,293.2 134.4,292.0 131.6,290.7 129.1,289.2 127.0,287.7 125.3,286.1 123.9,284.4 123.0,282.6 122.5,280.9"/><polyline class="n" points="189.1,274.6 189.2,275.9 189.0,277.3 188.5,278.7 187.7,280.0 186.7,281.3 185.4,282.6 183.8,283.8 181.9,284.9 179.9,286.0 177.6,286.9 175.2,287.8 172.5,288.5 169.8,289.1 166.9,289.6 163.9,290.0 160.9,290.2 157.9,290.2 154.9,290.2 152.0,290.0 149.1,289.6 146.4,289.1 143.8,288.5 141.4,287.8 139.2,287.0 137.3,286.1 135.6,285.2 134.2,284.1 133.1,283.1 132.4,282.0 131.9,280.9"/>
<polygon points="204.6,294.8 204.3,297.7 203.6,300.5 202.4,303.3 200.8,306.0 198.8,308.6 196.4,311.1 193.6,313.4 190.5,315.6 187.1,317.6 183.4,319.3 179.4,320.9 175.3,322.2 171.1,323.3 166.7,324.2 162.3,324.7 157.9,325.1 153.6,325.2 149.3,325.0 145.2,324.6 141.3,324.0 137.6,323.1 134.2,322.1 131.0,320.8 128.3,319.4 125.8,317.9 123.8,316.2 122.2,314.4 121.1,312.6 120.4,310.6 120.1,308.7 120.1,309.9 120.4,311.9 121.1,313.8 122.2,315.7 123.8,317.4 125.8,319.1 128.3,320.7 131.0,322.1 134.2,323.3 137.6,324.4 141.3,325.2 145.2,325.9 149.3,326.3 153.6,326.4 157.9,326.3 162.3,326.0 166.7,325.4 171.1,324.6 175.3,323.5 179.4,322.1 183.4,320.6 187.1,318.8 190.5,316.8 193.6,314.7 196.4,312.3 198.8,309.9 200.8,307.3 202.4,304.5 203.6,301.8 204.3,298.9 204.6,296.0" stroke="none"/><polyline class="n" points="204.6,296.0 204.3,298.9 203.6,301.8 202.4,304.5 200.8,307.3 198.8,309.9 196.4,312.3 193.6,314.7 190.5,316.8 187.1,318.8 183.4,320.6 179.4,322.1 175.3,323.5 171.1,324.6 166.7,325.4 162.3,326.0 157.9,326.3 153.6,326.4 149.3,326.3 145.2,325.9 141.3,325.2 137.6,324.4 134.2,323.3 131.0,322.1 128.3,320.7 125.8,319.1 123.8,317.4 122.2,315.7 121.1,313.8 120.4,311.9 120.1,309.9"/><polygon points="204.6,294.8 204.3,297.7 203.6,300.5 202.4,303.3 200.8,306.0 198.8,308.6 196.4,311.1 193.6,313.4 190.5,315.6 187.1,317.6 183.4,319.3 179.4,320.9 175.3,322.2 171.1,323.3 166.7,324.2 162.3,324.7 157.9,325.1 153.6,325.2 149.3,325.0 145.2,324.6 141.3,324.0 137.6,323.1 134.2,322.1 131.0,320.8 128.3,319.4 125.8,317.9 123.8,316.2 122.2,314.4 121.1,312.6 120.4,310.6 120.1,308.7 129.5,308.7 129.7,310.0 130.3,311.3 131.2,312.5 132.4,313.7 134.0,314.8 135.9,315.8 138.0,316.7 140.4,317.5 143.1,318.1 146.0,318.6 149.0,318.9 152.2,319.1 155.5,319.1 158.9,318.9 162.3,318.5 165.7,318.0 169.1,317.2 172.4,316.3 175.6,315.2 178.7,314.0 181.5,312.6 184.2,311.0 186.6,309.3 188.8,307.4 190.7,305.5 192.2,303.5 193.5,301.4 194.4,299.2 194.9,297.0 195.2,294.8" stroke="none"/><polyline class="n" points="204.6,294.8 204.3,297.7 203.6,300.5 202.4,303.3 200.8,306.0 198.8,308.6 196.4,311.1 193.6,313.4 190.5,315.6 187.1,317.6 183.4,319.3 179.4,320.9 175.3,322.2 171.1,323.3 166.7,324.2 162.3,324.7 157.9,325.1 153.6,325.2 149.3,325.0 145.2,324.6 141.3,324.0 137.6,323.1 134.2,322.1 131.0,320.8 128.3,319.4 125.8,317.9 123.8,316.2 122.2,314.4 121.1,312.6 120.4,310.6 120.1,308.7"/><polyline class="n" points="195.2,294.8 194.9,297.0 194.4,299.2 193.5,301.4 192.2,303.5 190.7,305.5 188.8,307.4 186.6,309.3 184.2,311.0 181.5,312.6 178.7,314.0 175.6,315.2 172.4,316.3 169.1,317.2 165.7,318.0 162.3,318.5 158.9,318.9 155.5,319.1 152.2,319.1 149.0,318.9 146.0,318.6 143.1,318.1 140.4,317.5 138.0,316.7 135.9,315.8 134.0,314.8 132.4,313.7 131.2,312.5 130.3,311.3 129.7,310.0 129.5,308.7"/>
<polygon points="202.9,322.6 202.6,325.5 201.9,328.3 200.7,331.1 199.1,333.8 197.1,336.4 194.7,338.9 191.9,341.2 188.8,343.4 185.4,345.4 181.7,347.1 177.7,348.7 173.6,350.0 169.4,351.1 165.0,352.0 160.6,352.5 156.2,352.9 151.9,353.0 147.6,352.8 143.5,352.4 139.6,351.8 135.9,350.9 132.5,349.9 129.3,348.6 126.6,347.2 124.1,345.7 122.1,344.0 120.5,342.2 119.4,340.4 118.7,338.4 118.4,336.5 118.4,337.8 118.7,339.7 119.4,341.6 120.5,343.5 122.1,345.2 124.1,346.9 126.6,348.5 129.3,349.9 132.5,351.1 135.9,352.2 139.6,353.0 143.5,353.7 147.6,354.1 151.9,354.2 156.2,354.1 160.6,353.8 165.0,353.2 169.4,352.4 173.6,351.3 177.7,349.9 181.7,348.4 185.4,346.6 188.8,344.6 191.9,342.5 194.7,340.1 197.1,337.7 199.1,335.1 200.7,332.3 201.9,329.6 202.6,326.7 202.9,323.8" stroke="none"/><polyline class="n" points="202.9,323.8 202.6,326.7 201.9,329.6 200.7,332.3 199.1,335.1 197.1,337.7 194.7,340.1 191.9,342.5 188.8,344.6 185.4,346.6 181.7,348.4 177.7,349.9 173.6,351.3 169.4,352.4 165.0,353.2 160.6,353.8 156.2,354.1 151.9,354.2 147.6,354.1 143.5,353.7 139.6,353.0 135.9,352.2 132.5,351.1 129.3,349.9 126.6,348.5 124.1,346.9 122.1,345.2 120.5,343.5 119.4,341.6 118.7,339.7 118.4,337.8"/><polygon points="202.9,322.6 202.6,325.5 201.9,328.3 200.7,331.1 199.1,333.8 197.1,336.4 194.7,338.9 191.9,341.2 188.8,343.4 185.4,345.4 181.7,347.1 177.7,348.7 173.6,350.0 169.4,351.1 165.0,352.0 160.6,352.5 156.2,352.9 151.9,353.0 147.6,352.8 143.5,352.4 139.6,351.8 135.9,350.9 132.5,349.9 129.3,348.6 126.6,347.2 124.1,345.7 122.1,344.0 120.5,342.2 119.4,340.4 118.7,338.4 118.4,336.5 127.8,336.5 128.0,337.8 128.6,339.1 129.5,340.3 130.7,341.5 132.3,342.6 134.2,343.6 136.3,344.5 138.7,345.3 141.4,345.9 144.3,346.4 147.3,346.7 150.5,346.9 153.8,346.9 157.2,346.7 160.6,346.3 164.0,345.8 167.4,345.0 170.7,344.1 173.9,343.0 177.0,341.8 179.8,340.4 182.5,338.8 184.9,337.1 187.1,335.2 189.0,333.3 190.5,331.3 191.8,329.2 192.7,327.0 193.2,324.8 193.5,322.6" stroke="none"/><polyline class="n" points="202.9,322.6 202.6,325.5 201.9,328.3 200.7,331.1 199.1,333.8 197.1,336.4 194.7,338.9 191.9,341.2 188.8,343.4 185.4,345.4 181.7,347.1 177.7,348.7 173.6,350.0 169.4,351.1 165.0,352.0 160.6,352.5 156.2,352.9 151.9,353.0 147.6,352.8 143.5,352.4 139.6,351.8 135.9,350.9 132.5,349.9 129.3,348.6 126.6,347.2 124.1,345.7 122.1,344.0 120.5,342.2 119.4,340.4 118.7,338.4 118.4,336.5"/><polyline class="n" points="193.5,322.6 193.2,324.8 192.7,327.0 191.8,329.2 190.5,331.3 189.0,333.3 187.1,335.2 184.9,337.1 182.5,338.8 179.8,340.4 177.0,341.8 173.9,343.0 170.7,344.1 167.4,345.0 164.0,345.8 160.6,346.3 157.2,346.7 153.8,346.9 150.5,346.9 147.3,346.7 144.3,346.4 141.4,345.9 138.7,345.3 136.3,344.5 134.2,343.6 132.3,342.6 130.7,341.5 129.5,340.3 128.6,339.1 128.0,337.8 127.8,336.5"/>
<polygon points="201.2,350.4 200.9,353.3 200.2,356.1 199.0,358.9 197.4,361.6 195.4,364.2 193.0,366.7 190.2,369.0 187.1,371.2 183.7,373.2 180.0,374.9 176.0,376.5 171.9,377.8 167.7,378.9 163.3,379.8 158.9,380.3 154.5,380.7 150.2,380.8 145.9,380.6 141.8,380.2 137.9,379.6 134.2,378.7 130.8,377.7 127.6,376.4 124.9,375.0 122.4,373.5 120.4,371.8 118.8,370.0 117.7,368.2 117.0,366.2 116.7,364.3 116.7,365.5 117.0,367.5 117.7,369.4 118.8,371.3 120.4,373.0 122.4,374.7 124.9,376.3 127.6,377.7 130.8,378.9 134.2,380.0 137.9,380.8 141.8,381.5 145.9,381.9 150.2,382.0 154.5,381.9 158.9,381.6 163.3,381.0 167.7,380.2 171.9,379.1 176.0,377.7 180.0,376.2 183.7,374.4 187.1,372.4 190.2,370.3 193.0,367.9 195.4,365.5 197.4,362.9 199.0,360.1 200.2,357.4 200.9,354.5 201.2,351.6" stroke="none"/><polyline class="n" points="201.2,351.6 200.9,354.5 200.2,357.4 199.0,360.1 197.4,362.9 195.4,365.5 193.0,367.9 190.2,370.3 187.1,372.4 183.7,374.4 180.0,376.2 176.0,377.7 171.9,379.1 167.7,380.2 163.3,381.0 158.9,381.6 154.5,381.9 150.2,382.0 145.9,381.9 141.8,381.5 137.9,380.8 134.2,380.0 130.8,378.9 127.6,377.7 124.9,376.3 122.4,374.7 120.4,373.0 118.8,371.3 117.7,369.4 117.0,367.5 116.7,365.5"/><polygon points="201.2,350.4 200.9,353.3 200.2,356.1 199.0,358.9 197.4,361.6 195.4,364.2 193.0,366.7 190.2,369.0 187.1,371.2 183.7,373.2 180.0,374.9 176.0,376.5 171.9,377.8 167.7,378.9 163.3,379.8 158.9,380.3 154.5,380.7 150.2,380.8 145.9,380.6 141.8,380.2 137.9,379.6 134.2,378.7 130.8,377.7 127.6,376.4 124.9,375.0 122.4,373.5 120.4,371.8 118.8,370.0 117.7,368.2 117.0,366.2 116.7,364.3 126.1,364.3 126.3,365.6 126.9,366.9 127.8,368.1 129.0,369.3 130.6,370.4 132.5,371.4 134.6,372.3 137.1,373.1 139.7,373.7 142.6,374.2 145.6,374.5 148.8,374.7 152.1,374.7 155.5,374.5 158.9,374.1 162.3,373.6 165.7,372.8 169.0,371.9 172.2,370.8 175.3,369.6 178.1,368.2 180.8,366.6 183.2,364.9 185.4,363.0 187.3,361.1 188.8,359.1 190.1,357.0 191.0,354.8 191.5,352.6 191.8,350.4" stroke="none"/><polyline class="n" points="201.2,350.4 200.9,353.3 200.2,356.1 199.0,358.9 197.4,361.6 195.4,364.2 193.0,366.7 190.2,369.0 187.1,371.2 183.7,373.2 180.0,374.9 176.0,376.5 171.9,377.8 167.7,378.9 163.3,379.8 158.9,380.3 154.5,380.7 150.2,380.8 145.9,380.6 141.8,380.2 137.9,379.6 134.2,378.7 130.8,377.7 127.6,376.4 124.9,375.0 122.4,373.5 120.4,371.8 118.8,370.0 117.7,368.2 117.0,366.2 116.7,364.3"/><polyline class="n" points="191.8,350.4 191.5,352.6 191.0,354.8 190.1,357.0 188.8,359.1 187.3,361.1 185.4,363.0 183.2,364.9 180.8,366.6 178.1,368.2 175.3,369.6 172.2,370.8 169.0,371.9 165.7,372.8 162.3,373.6 158.9,374.1 155.5,374.5 152.1,374.7 148.8,374.7 145.6,374.5 142.6,374.2 139.7,373.7 137.1,373.1 134.6,372.3 132.5,371.4 130.6,370.4 129.0,369.3 127.8,368.1 126.9,366.9 126.3,365.6 126.1,364.3"/>
<polygon points="199.5,378.2 199.2,381.1 198.5,383.9 197.3,386.7 195.7,389.4 193.7,392.0 191.3,394.5 188.5,396.8 185.4,399.0 182.0,401.0 178.3,402.7 174.3,404.3 170.2,405.6 166.0,406.7 161.6,407.6 157.2,408.1 152.8,408.5 148.5,408.6 144.2,408.4 140.1,408.0 136.2,407.4 132.5,406.5 129.1,405.5 125.9,404.2 123.2,402.8 120.7,401.3 118.7,399.6 117.1,397.8 116.0,396.0 115.3,394.0 115.0,392.1 115.0,393.3 115.3,395.3 116.0,397.2 117.1,399.1 118.7,400.8 120.7,402.5 123.2,404.1 125.9,405.5 129.1,406.7 132.5,407.8 136.2,408.6 140.1,409.3 144.2,409.7 148.5,409.8 152.8,409.7 157.2,409.4 161.6,408.8 166.0,408.0 170.2,406.9 174.3,405.5 178.3,404.0 182.0,402.2 185.4,400.2 188.5,398.1 191.3,395.7 193.7,393.3 195.7,390.7 197.3,387.9 198.5,385.2 199.2,382.3 199.5,379.4" stroke="none"/><polyline class="n" points="199.5,379.4 199.2,382.3 198.5,385.2 197.3,387.9 195.7,390.7 193.7,393.3 191.3,395.7 188.5,398.1 185.4,400.2 182.0,402.2 178.3,404.0 174.3,405.5 170.2,406.9 166.0,408.0 161.6,408.8 157.2,409.4 152.8,409.7 148.5,409.8 144.2,409.7 140.1,409.3 136.2,408.6 132.5,407.8 129.1,406.7 125.9,405.5 123.2,404.1 120.7,402.5 118.7,400.8 117.1,399.1 116.0,397.2 115.3,395.3 115.0,393.3"/><polygon points="199.5,378.2 199.2,381.1 198.5,383.9 197.3,386.7 195.7,389.4 193.7,392.0 191.3,394.5 188.5,396.8 185.4,399.0 182.0,401.0 178.3,402.7 174.3,404.3 170.2,405.6 166.0,406.7 161.6,407.6 157.2,408.1 152.8,408.5 148.5,408.6 144.2,408.4 140.1,408.0 136.2,407.4 132.5,406.5 129.1,405.5 125.9,404.2 123.2,402.8 120.7,401.3 118.7,399.6 117.1,397.8 116.0,396.0 115.3,394.0 115.0,392.1 124.4,392.1 124.6,393.4 125.2,394.7 126.1,395.9 127.3,397.1 128.9,398.2 130.8,399.2 132.9,400.1 135.4,400.9 138.0,401.5 140.9,402.0 143.9,402.3 147.1,402.5 150.4,402.5 153.8,402.3 157.2,401.9 160.6,401.4 164.0,400.6 167.3,399.7 170.5,398.6 173.6,397.4 176.4,396.0 179.1,394.4 181.5,392.7 183.7,390.8 185.6,388.9 187.1,386.9 188.4,384.8 189.3,382.6 189.8,380.4 190.1,378.2" stroke="none"/><polyline class="n" points="199.5,378.2 199.2,381.1 198.5,383.9 197.3,386.7 195.7,389.4 193.7,392.0 191.3,394.5 188.5,396.8 185.4,399.0 182.0,401.0 178.3,402.7 174.3,404.3 170.2,405.6 166.0,406.7 161.6,407.6 157.2,408.1 152.8,408.5 148.5,408.6 144.2,408.4 140.1,408.0 136.2,407.4 132.5,406.5 129.1,405.5 125.9,404.2 123.2,402.8 120.7,401.3 118.7,399.6 117.1,397.8 116.0,396.0 115.3,394.0 115.0,392.1"/><polyline class="n" points="190.1,378.2 189.8,380.4 189.3,382.6 188.4,384.8 187.1,386.9 185.6,388.9 183.7,390.8 181.5,392.7 179.1,394.4 176.4,396.0 173.6,397.4 170.5,398.6 167.3,399.7 164.0,400.6 160.6,401.4 157.2,401.9 153.8,402.3 150.4,402.5 147.1,402.5 143.9,402.3 140.9,402.0 138.0,401.5 135.4,400.9 132.9,400.1 130.8,399.2 128.9,398.2 127.3,397.1 126.1,395.9 125.2,394.7 124.6,393.4 124.4,392.1"/>
<polygon points="197.8,406.0 197.5,408.9 196.8,411.7 195.6,414.5 194.0,417.2 192.0,419.8 189.6,422.3 186.8,424.6 183.7,426.8 180.3,428.8 176.6,430.5 172.6,432.1 168.5,433.4 164.3,434.5 159.9,435.4 155.5,435.9 151.1,436.3 146.8,436.4 142.5,436.2 138.4,435.8 134.5,435.2 130.8,434.3 127.4,433.3 124.2,432.0 121.5,430.6 119.0,429.1 117.0,427.4 115.4,425.6 114.3,423.8 113.6,421.8 113.3,419.9 113.3,421.1 113.6,423.1 114.3,425.0 115.4,426.9 117.0,428.6 119.0,430.3 121.5,431.9 124.2,433.3 127.4,434.5 130.8,435.6 134.5,436.4 138.4,437.1 142.5,437.5 146.8,437.6 151.1,437.5 155.5,437.2 159.9,436.6 164.3,435.8 168.5,434.7 172.6,433.3 176.6,431.8 180.3,430.0 183.7,428.0 186.8,425.9 189.6,423.5 192.0,421.1 194.0,418.5 195.6,415.7 196.8,413.0 197.5,410.1 197.8,407.2" stroke="none"/><polyline class="n" points="197.8,407.2 197.5,410.1 196.8,413.0 195.6,415.7 194.0,418.5 192.0,421.1 189.6,423.5 186.8,425.9 183.7,428.0 180.3,430.0 176.6,431.8 172.6,433.3 168.5,434.7 164.3,435.8 159.9,436.6 155.5,437.2 151.1,437.5 146.8,437.6 142.5,437.5 138.4,437.1 134.5,436.4 130.8,435.6 127.4,434.5 124.2,433.3 121.5,431.9 119.0,430.3 117.0,428.6 115.4,426.9 114.3,425.0 113.6,423.1 113.3,421.1"/><polygon points="197.8,406.0 197.5,408.9 196.8,411.7 195.6,414.5 194.0,417.2 192.0,419.8 189.6,422.3 186.8,424.6 183.7,426.8 180.3,428.8 176.6,430.5 172.6,432.1 168.5,433.4 164.3,434.5 159.9,435.4 155.5,435.9 151.1,436.3 146.8,436.4 142.5,436.2 138.4,435.8 134.5,435.2 130.8,434.3 127.4,433.3 124.2,432.0 121.5,430.6 119.0,429.1 117.0,427.4 115.4,425.6 114.3,423.8 113.6,421.8 113.3,419.9 122.7,419.9 122.9,421.2 123.5,422.5 124.4,423.7 125.6,424.9 127.2,426.0 129.1,427.0 131.2,427.9 133.7,428.7 136.3,429.3 139.2,429.8 142.2,430.1 145.4,430.3 148.7,430.3 152.1,430.1 155.5,429.7 158.9,429.2 162.3,428.4 165.6,427.5 168.8,426.4 171.9,425.2 174.7,423.8 177.4,422.2 179.8,420.5 182.0,418.6 183.9,416.7 185.4,414.7 186.7,412.6 187.6,410.4 188.2,408.2 188.4,406.0" stroke="none"/><polyline class="n" points="197.8,406.0 197.5,408.9 196.8,411.7 195.6,414.5 194.0,417.2 192.0,419.8 189.6,422.3 186.8,424.6 183.7,426.8 180.3,428.8 176.6,430.5 172.6,432.1 168.5,433.4 164.3,434.5 159.9,435.4 155.5,435.9 151.1,436.3 146.8,436.4 142.5,436.2 138.4,435.8 134.5,435.2 130.8,434.3 127.4,433.3 124.2,432.0 121.5,430.6 119.0,429.1 117.0,427.4 115.4,425.6 114.3,423.8 113.6,421.8 113.3,419.9"/><polyline class="n" points="188.4,406.0 188.2,408.2 187.6,410.4 186.7,412.6 185.4,414.7 183.9,416.7 182.0,418.6 179.8,420.5 177.4,422.2 174.7,423.8 171.9,425.2 168.8,426.4 165.6,427.5 162.3,428.4 158.9,429.2 155.5,429.7 152.1,430.1 148.7,430.3 145.4,430.3 142.2,430.1 139.2,429.8 136.3,429.3 133.7,428.7 131.2,427.9 129.1,427.0 127.2,426.0 125.6,424.9 124.4,423.7 123.5,422.5 122.9,421.2 122.7,419.9"/>
<polygon points="196.1,433.8 195.8,436.7 195.1,439.5 193.9,442.3 192.3,445.0 190.3,447.6 187.9,450.1 185.1,452.4 182.0,454.6 178.6,456.6 174.9,458.3 170.9,459.9 166.8,461.2 162.6,462.3 158.2,463.2 153.8,463.7 149.4,464.1 145.1,464.2 140.8,464.0 136.7,463.6 132.8,463.0 129.1,462.1 125.7,461.1 122.5,459.8 119.8,458.4 117.4,456.9 115.3,455.2 113.7,453.4 112.6,451.6 111.9,449.6 111.6,447.7 111.6,448.9 111.9,450.9 112.6,452.8 113.7,454.7 115.3,456.4 117.4,458.1 119.8,459.7 122.5,461.1 125.7,462.3 129.1,463.4 132.8,464.2 136.7,464.9 140.8,465.3 145.1,465.4 149.4,465.3 153.8,465.0 158.2,464.4 162.6,463.6 166.8,462.5 170.9,461.1 174.9,459.6 178.6,457.8 182.0,455.8 185.1,453.7 187.9,451.3 190.3,448.9 192.3,446.3 193.9,443.5 195.1,440.8 195.8,437.9 196.1,435.0" stroke="none"/><polyline class="n" points="196.1,435.0 195.8,437.9 195.1,440.8 193.9,443.5 192.3,446.3 190.3,448.9 187.9,451.3 185.1,453.7 182.0,455.8 178.6,457.8 174.9,459.6 170.9,461.1 166.8,462.5 162.6,463.6 158.2,464.4 153.8,465.0 149.4,465.3 145.1,465.4 140.8,465.3 136.7,464.9 132.8,464.2 129.1,463.4 125.7,462.3 122.5,461.1 119.8,459.7 117.4,458.1 115.3,456.4 113.7,454.7 112.6,452.8 111.9,450.9 111.6,448.9"/><polygon points="196.1,433.8 195.8,436.7 195.1,439.5 193.9,442.3 192.3,445.0 190.3,447.6 187.9,450.1 185.1,452.4 182.0,454.6 178.6,456.6 174.9,458.3 170.9,459.9 166.8,461.2 162.6,462.3 158.2,463.2 153.8,463.7 149.4,464.1 145.1,464.2 140.8,464.0 136.7,463.6 132.8,463.0 129.1,462.1 125.7,461.1 122.5,459.8 119.8,458.4 117.4,456.9 115.3,455.2 113.7,453.4 112.6,451.6 111.9,449.6 111.6,447.7 121.0,447.7 121.2,449.0 121.8,450.3 122.7,451.5 123.9,452.7 125.5,453.8 127.4,454.8 129.5,455.7 132.0,456.5 134.6,457.1 137.5,457.6 140.5,457.9 143.7,458.1 147.0,458.1 150.4,457.9 153.8,457.5 157.2,457.0 160.6,456.2 163.9,455.3 167.1,454.2 170.2,453.0 173.0,451.6 175.7,450.0 178.1,448.3 180.3,446.4 182.2,444.5 183.7,442.5 185.0,440.4 185.9,438.2 186.5,436.0 186.7,433.8" stroke="none"/><polyline class="n" points="196.1,433.8 195.8,436.7 195.1,439.5 193.9,442.3 192.3,445.0 190.3,447.6 187.9,450.1 185.1,452.4 182.0,454.6 178.6,456.6 174.9,458.3 170.9,459.9 166.8,461.2 162.6,462.3 158.2,463.2 153.8,463.7 149.4,464.1 145.1,464.2 140.8,464.0 136.7,463.6 132.8,463.0 129.1,462.1 125.7,461.1 122.5,459.8 119.8,458.4 117.4,456.9 115.3,455.2 113.7,453.4 112.6,451.6 111.9,449.6 111.6,447.7"/><polyline class="n" points="186.7,433.8 186.5,436.0 185.9,438.2 185.0,440.4 183.7,442.5 182.2,444.5 180.3,446.4 178.1,448.3 175.7,450.0 173.0,451.6 170.2,453.0 167.1,454.2 163.9,455.3 160.6,456.2 157.2,457.0 153.8,457.5 150.4,457.9 147.0,458.1 143.7,458.1 140.5,457.9 137.5,457.6 134.6,457.1 132.0,456.5 129.5,455.7 127.4,454.8 125.5,453.8 123.9,452.7 122.7,451.5 121.8,450.3 121.2,449.0 121.0,447.7"/>
<polygon points="194.4,461.6 194.1,464.5 193.4,467.3 192.2,470.1 190.6,472.8 188.6,475.4 186.2,477.9 183.4,480.2 180.3,482.4 176.9,484.4 173.2,486.1 169.2,487.7 165.1,489.0 160.9,490.1 156.5,491.0 152.1,491.5 147.7,491.9 143.4,492.0 139.1,491.8 135.0,491.4 131.1,490.8 127.4,489.9 124.0,488.9 120.8,487.6 118.1,486.2 115.7,484.7 113.6,483.0 112.0,481.2 110.9,479.4 110.2,477.4 109.9,475.5 109.9,476.7 110.2,478.7 110.9,480.6 112.0,482.5 113.6,484.2 115.7,485.9 118.1,487.5 120.8,488.9 124.0,490.1 127.4,491.2 131.1,492.0 135.0,492.7 139.1,493.1 143.4,493.2 147.7,493.1 152.1,492.8 156.5,492.2 160.9,491.4 165.1,490.3 169.2,488.9 173.2,487.4 176.9,485.6 180.3,483.6 183.4,481.5 186.2,479.1 188.6,476.7 190.6,474.1 192.2,471.3 193.4,468.6 194.1,465.7 194.4,462.8" stroke="none"/><polyline class="n" points="194.4,462.8 194.1,465.7 193.4,468.6 192.2,471.3 190.6,474.1 188.6,476.7 186.2,479.1 183.4,481.5 180.3,483.6 176.9,485.6 173.2,487.4 169.2,488.9 165.1,490.3 160.9,491.4 156.5,492.2 152.1,492.8 147.7,493.1 143.4,493.2 139.1,493.1 135.0,492.7 131.1,492.0 127.4,491.2 124.0,490.1 120.8,488.9 118.1,487.5 115.7,485.9 113.6,484.2 112.0,482.5 110.9,480.6 110.2,478.7 109.9,476.7"/><polygon points="194.4,461.6 194.1,464.5 193.4,467.3 192.2,470.1 190.6,472.8 188.6,475.4 186.2,477.9 183.4,480.2 180.3,482.4 176.9,484.4 173.2,486.1 169.2,487.7 165.1,489.0 160.9,490.1 156.5,491.0 152.1,491.5 147.7,491.9 143.4,492.0 139.1,491.8 135.0,491.4 131.1,490.8 127.4,489.9 124.0,488.9 120.8,487.6 118.1,486.2 115.7,484.7 113.6,483.0 112.0,481.2 110.9,479.4 110.2,477.4 109.9,475.5 119.3,475.5 119.5,476.8 120.1,478.1 121.0,479.3 122.2,480.5 123.8,481.6 125.7,482.6 127.8,483.5 130.3,484.3 132.9,484.9 135.8,485.4 138.8,485.7 142.0,485.9 145.3,485.9 148.7,485.7 152.1,485.3 155.5,484.8 158.9,484.0 162.2,483.1 165.4,482.0 168.5,480.8 171.3,479.4 174.0,477.8 176.4,476.1 178.6,474.2 180.5,472.3 182.0,470.3 183.3,468.2 184.2,466.0 184.8,463.8 185.0,461.6" stroke="none"/><polyline class="n" points="194.4,461.6 194.1,464.5 193.4,467.3 192.2,470.1 190.6,472.8 188.6,475.4 186.2,477.9 183.4,480.2 180.3,482.4 176.9,484.4 173.2,486.1 169.2,487.7 165.1,489.0 160.9,490.1 156.5,491.0 152.1,491.5 147.7,491.9 143.4,492.0 139.1,491.8 135.0,491.4 131.1,490.8 127.4,489.9 124.0,488.9 120.8,487.6 118.1,486.2 115.7,484.7 113.6,483.0 112.0,481.2 110.9,479.4 110.2,477.4 109.9,475.5"/><polyline class="n" points="185.0,461.6 184.8,463.8 184.2,466.0 183.3,468.2 182.0,470.3 180.5,472.3 178.6,474.2 176.4,476.1 174.0,477.8 171.3,479.4 168.5,480.8 165.4,482.0 162.2,483.1 158.9,484.0 155.5,484.8 152.1,485.3 148.7,485.7 145.3,485.9 142.0,485.9 138.8,485.7 135.8,485.4 132.9,484.9 130.3,484.3 127.8,483.5 125.7,482.6 123.8,481.6 122.2,480.5 121.0,479.3 120.1,478.1 119.5,476.8 119.3,475.5"/>
<polygon points="192.7,489.4 192.4,492.3 191.7,495.1 190.5,497.9 188.9,500.6 186.9,503.2 184.5,505.7 181.7,508.0 178.6,510.2 175.2,512.2 171.5,513.9 167.6,515.5 163.4,516.8 159.2,517.9 154.8,518.8 150.4,519.3 146.0,519.7 141.7,519.8 137.4,519.6 133.3,519.2 129.4,518.6 125.7,517.7 122.3,516.7 119.1,515.4 116.4,514.0 114.0,512.5 111.9,510.8 110.3,509.0 109.2,507.2 108.5,505.2 108.2,503.3 108.2,504.5 108.5,506.5 109.2,508.4 110.3,510.3 111.9,512.0 114.0,513.7 116.4,515.3 119.1,516.7 122.3,517.9 125.7,519.0 129.4,519.8 133.3,520.5 137.4,520.9 141.7,521.0 146.0,520.9 150.4,520.6 154.8,520.0 159.2,519.2 163.4,518.1 167.6,516.7 171.5,515.2 175.2,513.4 178.6,511.4 181.7,509.3 184.5,506.9 186.9,504.5 188.9,501.9 190.5,499.1 191.7,496.4 192.4,493.5 192.7,490.6" stroke="none"/><polyline class="n" points="192.7,490.6 192.4,493.5 191.7,496.4 190.5,499.1 188.9,501.9 186.9,504.5 184.5,506.9 181.7,509.3 178.6,511.4 175.2,513.4 171.5,515.2 167.6,516.7 163.4,518.1 159.2,519.2 154.8,520.0 150.4,520.6 146.0,520.9 141.7,521.0 137.4,520.9 133.3,520.5 129.4,519.8 125.7,519.0 122.3,517.9 119.1,516.7 116.4,515.3 114.0,513.7 111.9,512.0 110.3,510.3 109.2,508.4 108.5,506.5 108.2,504.5"/><polygon points="192.7,489.4 192.4,492.3 191.7,495.1 190.5,497.9 188.9,500.6 186.9,503.2 184.5,505.7 181.7,508.0 178.6,510.2 175.2,512.2 171.5,513.9 167.6,515.5 163.4,516.8 159.2,517.9 154.8,518.8 150.4,519.3 146.0,519.7 141.7,519.8 137.4,519.6 133.3,519.2 129.4,518.6 125.7,517.7 122.3,516.7 119.1,515.4 116.4,514.0 114.0,512.5 111.9,510.8 110.3,509.0 109.2,507.2 108.5,505.2 108.2,503.3 117.6,503.3 117.8,504.6 118.4,505.9 119.3,507.1 120.5,508.3 122.1,509.4 124.0,510.4 126.1,511.3 128.6,512.1 131.2,512.7 134.1,513.2 137.1,513.5 140.3,513.7 143.6,513.7 147.0,513.5 150.4,513.1 153.9,512.6 157.2,511.8 160.5,510.9 163.7,509.8 166.8,508.6 169.7,507.2 172.3,505.6 174.7,503.9 176.9,502.0 178.8,500.1 180.3,498.1 181.6,496.0 182.5,493.8 183.1,491.6 183.3,489.4" stroke="none"/><polyline class="n" points="192.7,489.4 192.4,492.3 191.7,495.1 190.5,497.9 188.9,500.6 186.9,503.2 184.5,505.7 181.7,508.0 178.6,510.2 175.2,512.2 171.5,513.9 167.6,515.5 163.4,516.8 159.2,517.9 154.8,518.8 150.4,519.3 146.0,519.7 141.7,519.8 137.4,519.6 133.3,519.2 129.4,518.6 125.7,517.7 122.3,516.7 119.1,515.4 116.4,514.0 114.0,512.5 111.9,510.8 110.3,509.0 109.2,507.2 108.5,505.2 108.2,503.3"/><polyline class="n" points="183.3,489.4 183.1,491.6 182.5,493.8 181.6,496.0 180.3,498.1 178.8,500.1 176.9,502.0 174.7,503.9 172.3,505.6 169.7,507.2 166.8,508.6 163.7,509.8 160.5,510.9 157.2,511.8 153.9,512.6 150.4,513.1 147.0,513.5 143.6,513.7 140.3,513.7 137.1,513.5 134.1,513.2 131.2,512.7 128.6,512.1 126.1,511.3 124.0,510.4 122.1,509.4 120.5,508.3 119.3,507.1 118.4,505.9 117.8,504.6 117.6,503.3"/>
<polygon points="191.0,517.2 190.7,520.1 190.0,522.9 188.8,525.7 187.2,528.4 185.2,531.0 182.8,533.5 180.0,535.8 176.9,538.0 173.5,540.0 169.8,541.7 165.9,543.3 161.7,544.6 157.5,545.7 153.1,546.6 148.7,547.1 144.3,547.5 140.0,547.6 135.7,547.4 131.6,547.0 127.7,546.4 124.0,545.5 120.6,544.5 117.4,543.2 114.7,541.8 112.3,540.3 110.2,538.6 108.6,536.8 107.5,535.0 106.8,533.0 106.5,531.1 106.5,532.3 106.8,534.3 107.5,536.2 108.6,538.1 110.2,539.8 112.3,541.5 114.7,543.1 117.4,544.5 120.6,545.7 124.0,546.8 127.7,547.6 131.6,548.3 135.7,548.7 140.0,548.8 144.3,548.7 148.7,548.4 153.1,547.8 157.5,547.0 161.7,545.9 165.9,544.5 169.8,543.0 173.5,541.2 176.9,539.2 180.0,537.1 182.8,534.7 185.2,532.3 187.2,529.7 188.8,526.9 190.0,524.2 190.7,521.3 191.0,518.5" stroke="none"/><polyline class="n" points="191.0,518.5 190.7,521.3 190.0,524.2 188.8,526.9 187.2,529.7 185.2,532.3 182.8,534.7 180.0,537.1 176.9,539.2 173.5,541.2 169.8,543.0 165.9,544.5 161.7,545.9 157.5,547.0 153.1,547.8 148.7,548.4 144.3,548.7 140.0,548.8 135.7,548.7 131.6,548.3 127.7,547.6 124.0,546.8 120.6,545.7 117.4,544.5 114.7,543.1 112.3,541.5 110.2,539.8 108.6,538.1 107.5,536.2 106.8,534.3 106.5,532.3"/><polygon points="191.0,517.2 190.7,520.1 190.0,522.9 188.8,525.7 187.2,528.4 185.2,531.0 182.8,533.5 180.0,535.8 176.9,538.0 173.5,540.0 169.8,541.7 165.9,543.3 161.7,544.6 157.5,545.7 153.1,546.6 148.7,547.1 144.3,547.5 140.0,547.6 135.7,547.4 131.6,547.0 127.7,546.4 124.0,545.5 120.6,544.5 117.4,543.2 114.7,541.8 112.3,540.3 110.2,538.6 108.6,536.8 107.5,535.0 106.8,533.0 106.5,531.1 115.9,531.1 116.1,532.4 116.7,533.7 117.6,534.9 118.8,536.1 120.4,537.2 122.3,538.2 124.4,539.1 126.9,539.9 129.5,540.5 132.4,541.0 135.4,541.3 138.6,541.5 141.9,541.5 145.3,541.3 148.7,540.9 152.2,540.4 155.5,539.6 158.8,538.7 162.0,537.6 165.1,536.4 168.0,535.0 170.6,533.4 173.0,531.7 175.2,529.8 177.1,527.9 178.6,525.9 179.9,523.8 180.8,521.6 181.4,519.4 181.6,517.2" stroke="none"/><polyline class="n" points="191.0,517.2 190.7,520.1 190.0,522.9 188.8,525.7 187.2,528.4 185.2,531.0 182.8,533.5 180.0,535.8 176.9,538.0 173.5,540.0 169.8,541.7 165.9,543.3 161.7,544.6 157.5,545.7 153.1,546.6 148.7,547.1 144.3,547.5 140.0,547.6 135.7,547.4 131.6,547.0 127.7,546.4 124.0,545.5 120.6,544.5 117.4,543.2 114.7,541.8 112.3,540.3 110.2,538.6 108.6,536.8 107.5,535.0 106.8,533.0 106.5,531.1"/><polyline class="n" points="181.6,517.2 181.4,519.4 180.8,521.6 179.9,523.8 178.6,525.9 177.1,527.9 175.2,529.8 173.0,531.7 170.6,533.4 168.0,535.0 165.1,536.4 162.0,537.6 158.8,538.7 155.5,539.6 152.2,540.4 148.7,540.9 145.3,541.3 141.9,541.5 138.6,541.5 135.4,541.3 132.4,541.0 129.5,540.5 126.9,539.9 124.4,539.1 122.3,538.2 120.4,537.2 118.8,536.1 117.6,534.9 116.7,533.7 116.1,532.4 115.9,531.1"/></g>
<g id="shock"><path d="M346.6,412 L340.3,527.2 C341,532 350,535.5 360,535.5 C371,535.5 381,533 381.6,529.2 L390.9,412 Z"/>
<path class="n" d="M353.4,419 L347.3,531"/>
<path class="n" d="M343,479.5 C346,484 355,486.5 364,486.5 C374,486.5 384,484.5 386.6,481.4"/>
<path class="n" d="M342.9,481.5 C346,486 355,488.5 364,488.5 C374,488.5 384,486.5 386.4,483.4"/>
<path class="n" d="M341.6,504.6 C345,508.5 354,510.8 363,510.8 C373,510.8 382,509 384.7,505.6"/>
<g transform="rotate(-5.5 368.8 405.7)"><path d="M338.2,405.7 v7 A30.6,9.3 0 0 0 399.40000000000003,412.7 v-7 Z"/><ellipse cx="368.8" cy="405.7" rx="30.6" ry="9.3"/><path class="n" d="M338.5,410.3 A30.6,9.3 0 0 0 399.1,410.3"/></g>
<path d="M303.2,297.9 L297.3,399.1 C299,404 309,408.6 322,409.3 C333,409.8 342,408 343.9,405.5 L349.4,300 C345,292 310,289 303.2,297.9 Z"/>
<path d="M349.4,303 L344,406 L350.9,408.3 L356.4,299.8 Z"/>
<path d="M357,262 L350.9,408 C353,412.5 362,414.2 372,413.8 C382,413.4 390.5,410.5 392.2,405.5 L401.4,262 C401.5,258 400,256 398.4,255 L362.5,255 Z"/>
<path class="n" d="M360.8,300 L355.2,410.5"/>
<path d="M355.8,256.8 C356,262 366,263.5 377,263.2 C388,263 396.5,261 397.4,257.4 C399.5,259 401,263 401.4,268 L401.4,262 C401.4,252 398,249.5 377,249.5 C360,249.5 355.8,252 355.8,256.8 Z"/>
<path class="n" d="M397.4,257.4 C400,260 401.2,264 401.4,268"/>
<path class="n" d="M382.8,270.7 C390,270.7 397,269.3 401.2,267"/>
<path class="n" d="M382.8,272.4 C390,272.4 397,271 401.1,268.7"/>
<path class="n" d="M374.4,287.1 C380,288.3 392,288.2 399.7,284.3"/>
<path d="M372.47,219.85 A10.7,15.6 8 0 0 368.13,250.75 L389.53,256.95 A10.7,15.6 8 0 0 393.87,226.05 Z"/>
<ellipse cx="374.8" cy="236.7" rx="10.7" ry="15.6" transform="rotate(8 374.8 236.7)"/>
<ellipse cx="378.6" cy="237.6" rx="10.1" ry="14.799999999999999" transform="rotate(8 378.6 237.6)"/>
<path d="M364.2,243 L364.2,257.5 C368,259.5 372,260.3 376.5,260.5 L388,261 L393,257 L392,244 L375,242.6 L368.1,239.8 Z"/>
<path class="n" d="M375,242.6 L375,260.4"/>
<ellipse cx="389.5" cy="240.9" rx="10.7" ry="15.6" transform="rotate(8 389.5 240.9)"/>
<ellipse cx="391.7" cy="241.5" rx="10.7" ry="15.6" transform="rotate(8 391.7 241.5)"/>
<ellipse cx="392.0" cy="241.8" rx="5.6" ry="7.5" transform="rotate(8 392.0 241.8)"/>
<path d="M320,276 L327.8,273.1 L340.1,264.7 L354.2,256.2 L357,256.2 C359,258.5 361,259.8 363.7,260.7 L374.9,265.2 L385.1,264.7 L382.6,269.2 L380.8,282.6 L357.5,296.7 L355.6,302 L335,306.2 L335,293 L322,296 Z"/>
<path class="n" d="M376.6,266.3 L346.9,282.6"/>
<path class="n" d="M374.9,269.2 L346.3,284.4"/>
<path class="n" d="M355,258.5 C358,261 361,262.5 364,263.6 L374.5,267.5"/>
<path class="n" d="M334.5,269.6 C342,266.3 350,265.6 354.6,267.4 C351,271 349,275 346.9,278.7 C345,281.3 343.4,282.6 342.8,284.4 L342.2,304.5"/>
<path class="n" d="M336,271.5 C343,268.3 349,267.6 352.3,268.6 C349.5,272 347.5,275.5 345.5,279 C344,281 341.8,283 341.3,285 L341.2,304.8"/>
<path class="n" d="M334.6,293.6 L341.6,292.3"/>
<ellipse cx="322.6" cy="291.0" rx="11.3" ry="16.0" transform="rotate(-10 322.6 291.0)"/>
<ellipse cx="321.3" cy="291.1" rx="9.8" ry="13.8" transform="rotate(-10 321.3 291.1)"/>
<ellipse cx="320.4" cy="291.2" rx="7.8" ry="11.2" transform="rotate(-10 320.4 291.2)"/>
<ellipse cx="319.4" cy="291.4" rx="5.4" ry="9.6" transform="rotate(-10 319.4 291.4)"/>
<path d="M313.5,283.1 L317.2,283.8 L321.6,291.6 L321.3,298 L317.6,298.3 L318.2,291.2 Z"/>
<path class="n" d="M318.2,291.2 L321.6,291.6"/>
<path d="M306.4,286.5 L313.5,283.1 L318.2,291.2 L317.6,298.3 L310.8,301.7 L306.4,296.6 Z"/>
<path class="n" d="M303.2,297.9 C305,303 311,306 318.1,307.4 C324,308.6 330,309.6 335,309.6 C343,309.4 352,306 356.4,300.5"/></g>
<g id="lower"><path d="M343.26,678.84 A11.9,14.8 8 0 0 339.14,708.16 L357.64,712.46 A11.9,14.8 8 0 0 361.76,683.14 Z"/>
<path d="M339.5,668 L338.6,680 C341,684 356,686 362.5,682.5 L363.8,668 Z"/>
<path class="n" d="M332.5,694 L334,700 L347.8,704"/>
<ellipse cx="357.7" cy="697.3" rx="11.9" ry="14.8" transform="rotate(8 357.7 697.3)"/>
<ellipse cx="359.7" cy="697.8" rx="11.9" ry="14.8" transform="rotate(8 359.7 697.8)"/>
<ellipse cx="360.5" cy="698.0" rx="5.9" ry="7.4" transform="rotate(8 360.5 698.0)"/>
<path d="M333.40000000000003,663.0 v4.6 A18.7,5.6 0 0 0 370.8,667.6 v-4.6 Z"/>
<ellipse cx="352.1" cy="663.0" rx="18.7" ry="5.6"/>
<path d="M344.3,648 L344.3,663.3 C347,665.2 357,665.4 361,663.6 L361,648 Z"/>
<path class="n" d="M346.6,650 L346.6,664.4"/>
<g class="z" transform="translate(320,585) scale(0.098328)"><path d="M290,122 C250,122 222,135 215,170 L200,300 L165,385 L140,500 C138,530 142,548 152,562 L205,606 C220,640 250,660 290,664 L420,664 C450,660 480,640 500,610 L545,560 C552,540 552,520 550,500 L535,400 L530,300 L525,200 C520,160 500,142 460,138 Z"/><path class="n" d="M215,225 C260,250 300,258 350,257 C420,256 480,250 525,235"/><path class="n" d="M200,300 C250,330 300,341 350,340 C420,339 480,330 530,310"/><path class="n" d="M180,378 C240,410 300,421 350,420 C420,419 490,412 535,395"/><path class="n" d="M172,398 C235,430 300,441 350,440 C420,439 490,432 537,415"/><path class="n" d="M155,455 C225,490 300,500 350,500 C420,500 495,490 543,470"/><path class="n" d="M150,475 C222,508 300,518 350,518 C420,518 497,508 546,488"/><path class="n" d="M143,522 C220,558 300,566 350,566 C420,566 500,552 550,530"/><path class="n" d="M150,560 C222,588 300,596 350,596 C420,596 500,584 546,560"/><path class="n" d="M205,606 C260,628 420,632 500,610"/><path class="n" d="M280,170 C255,190 245,215 243,250 L240,400 L215,520 C205,545 202,560 206,580 L215,612"/><path class="n" d="M290,122 C300,150 330,168 375,168 C420,168 450,160 460,138"/></g>
<path d="M351.7,535.2 L348.5,597.2 C350,600.5 354,601.6 357.5,601.5 C361,601.4 364.2,600.4 365.2,598.6 L368.6,535"/>
<path class="n" d="M354.4,536 L351.4,600.2"/></g>
<g id="small"><g transform="translate(0,0)"><polygon points="233.06,49.12 228.81,56.00 223.97,57.72 221.37,53.29 222.54,45.28 226.79,38.40 231.63,36.68 234.23,41.11"/>
<path class="n" d="M222.54,45.28 L226.54,46.98 M226.79,38.40 L230.79,40.10 M221.37,53.29 L225.37,54.99"/>
<ellipse cx="232.3" cy="49.3" rx="6.6" ry="12.2" transform="rotate(20 232.3 49.3)"/>
<path d="M233.62,44.19 A3.60,5.70 24 0 0 228.98,54.61 L265.28,73.61 A3.60,5.70 24 0 0 269.92,63.19 Z"/>
<ellipse cx="267.6" cy="68.4" rx="3.6" ry="5.7" transform="rotate(24 267.6 68.4)"/>
<path class="n" d="M256.9,61 C256,63 255.6,66 255.7,68.6"/></g>
<g transform="translate(-62.2,669.5)"><polygon points="233.06,49.12 228.81,56.00 223.97,57.72 221.37,53.29 222.54,45.28 226.79,38.40 231.63,36.68 234.23,41.11"/>
<path class="n" d="M222.54,45.28 L226.54,46.98 M226.79,38.40 L230.79,40.10 M221.37,53.29 L225.37,54.99"/>
<ellipse cx="232.3" cy="49.3" rx="6.6" ry="12.2" transform="rotate(20 232.3 49.3)"/>
<path d="M233.62,44.19 A3.60,5.70 24 0 0 228.98,54.61 L265.28,73.61 A3.60,5.70 24 0 0 269.92,63.19 Z"/>
<ellipse cx="267.6" cy="68.4" rx="3.6" ry="5.7" transform="rotate(24 267.6 68.4)"/>
<path class="n" d="M256.9,61 C256,63 255.6,66 255.7,68.6"/></g>
<g><path d="M316.47,79.65 A10.62,14.45 18 0 0 307.53,107.15 L313.49,110.59 A10.62,14.45 18 0 0 322.43,83.09 Z"/>
<ellipse cx="317.96" cy="96.84" rx="10.62" ry="14.45" transform="rotate(18 317.96 96.84)"/>
<ellipse cx="318.98" cy="97.43" rx="8.65" ry="11.6" transform="rotate(18 318.98 97.43)"/>
<ellipse cx="322.81" cy="99.64" rx="6.69" ry="9.05" transform="rotate(18 322.81 99.64)"/>
<path d="M325.61,91.04 A6.69,9.05 18 0 0 320.02,108.25 L322.49,109.67 A6.69,9.05 18 0 0 328.08,92.47 Z"/>
<ellipse cx="325.28" cy="101.07" rx="6.69" ry="9.05" transform="rotate(18 325.28 101.07)"/>
<path d="M327.13,96.02 A3.54,5.41 18 0 0 323.78,106.31 L328.98,109.31 A3.54,5.41 18 0 0 332.32,99.02 Z"/>
<ellipse cx="330.65" cy="104.17" rx="3.54" ry="5.41" transform="rotate(18 330.65 104.17)"/>
<ellipse cx="330.65" cy="104.17" rx="2.65" ry="4.42" transform="rotate(18 330.65 104.17)"/></g>
<g><path d="M257.67,749.65 A10.62,14.45 18 0 0 248.73,777.15 L254.69,780.59 A10.62,14.45 18 0 0 263.63,753.09 Z"/>
<ellipse cx="259.16" cy="766.84" rx="10.62" ry="14.45" transform="rotate(18 259.16 766.84)"/>
<ellipse cx="260.18" cy="767.43" rx="8.65" ry="11.6" transform="rotate(18 260.18 767.43)"/>
<ellipse cx="264.01" cy="769.64" rx="6.69" ry="9.05" transform="rotate(18 264.01 769.64)"/>
<path d="M266.81,761.04 A6.69,9.05 18 0 0 261.22,778.25 L263.69,779.67 A6.69,9.05 18 0 0 269.28,762.47 Z"/>
<ellipse cx="266.48" cy="771.07" rx="6.69" ry="9.05" transform="rotate(18 266.48 771.07)"/>
<path d="M268.33,766.02 A3.54,5.41 18 0 0 264.98,776.31 L270.18,779.31 A3.54,5.41 18 0 0 273.52,769.02 Z"/>
<ellipse cx="271.85" cy="774.17" rx="3.54" ry="5.41" transform="rotate(18 271.85 774.17)"/>
<ellipse cx="271.85" cy="774.17" rx="2.65" ry="4.42" transform="rotate(18 271.85 774.17)"/></g>
<g><path d="M484.84,183.87 A3.74,6.10 20 0 0 480.67,195.33 L488.81,199.90 A3.74,6.10 20 0 0 492.98,188.44 Z"/>
<ellipse cx="490.9" cy="194.17" rx="3.74" ry="6.1" transform="rotate(20 490.9 194.17)"/>
<path d="M493.40,184.45 A6.49,9.83 20 0 0 486.68,202.93 L490.96,205.33 A6.49,9.83 20 0 0 497.69,186.85 Z"/>
<ellipse cx="494.33" cy="196.09" rx="6.49" ry="9.83" transform="rotate(20 494.33 196.09)"/>
<path d="M497.96,186.11 A6.88,10.62 20 0 0 490.69,206.07 L491.99,211.02 A9.44,14.36 20 0 0 501.81,184.04 Z"/>
<ellipse cx="496.9" cy="197.53" rx="9.44" ry="14.36" transform="rotate(20 496.9 197.53)"/>
<path d="M501.94,183.67 A9.64,14.75 20 0 0 491.85,211.39 L497.86,214.76 A9.64,14.75 20 0 0 507.94,187.04 Z"/>
<ellipse cx="502.9" cy="200.9" rx="9.64" ry="14.75" transform="rotate(20 502.9 200.9)"/>
<ellipse cx="503.7" cy="201.3" rx="3.34" ry="6.1" transform="rotate(20 503.7 201.3)"/></g>
<g><path d="M392.04,830.17 A3.74,6.10 20 0 0 387.87,841.63 L396.01,846.20 A3.74,6.10 20 0 0 400.18,834.74 Z"/>
<ellipse cx="398.1" cy="840.47" rx="3.74" ry="6.1" transform="rotate(20 398.1 840.47)"/>
<path d="M400.60,830.75 A6.49,9.83 20 0 0 393.88,849.23 L398.16,851.63 A6.49,9.83 20 0 0 404.89,833.15 Z"/>
<ellipse cx="401.53" cy="842.39" rx="6.49" ry="9.83" transform="rotate(20 401.53 842.39)"/>
<path d="M405.16,832.41 A6.88,10.62 20 0 0 397.89,852.37 L399.19,857.32 A9.44,14.36 20 0 0 409.01,830.34 Z"/>
<ellipse cx="404.1" cy="843.83" rx="9.44" ry="14.36" transform="rotate(20 404.1 843.83)"/>
<path d="M409.14,829.97 A9.64,14.75 20 0 0 399.05,857.69 L405.06,861.06 A9.64,14.75 20 0 0 415.14,833.34 Z"/>
<ellipse cx="410.1" cy="847.2" rx="9.64" ry="14.75" transform="rotate(20 410.1 847.2)"/>
<ellipse cx="410.9" cy="847.6" rx="3.34" ry="6.1" transform="rotate(20 410.9 847.6)"/></g>
<ellipse cx="372.5" cy="126.7" rx="7.4" ry="11.2" transform="rotate(27 372.5 126.7)"/><ellipse cx="372.5" cy="126.7" rx="5.4" ry="9.0" transform="rotate(27 372.5 126.7)"/>
<ellipse cx="432.9" cy="157.3" rx="7.4" ry="11.2" transform="rotate(27 432.9 157.3)"/><ellipse cx="432.9" cy="157.3" rx="5.4" ry="9.0" transform="rotate(27 432.9 157.3)"/>
<ellipse cx="303.6" cy="791.8" rx="7.4" ry="11.2" transform="rotate(27 303.6 791.8)"/><ellipse cx="303.6" cy="791.8" rx="5.4" ry="9.0" transform="rotate(27 303.6 791.8)"/>
<ellipse cx="363.6" cy="822.3" rx="7.4" ry="11.2" transform="rotate(27 363.6 822.3)"/><ellipse cx="363.6" cy="822.3" rx="5.4" ry="9.0" transform="rotate(27 363.6 822.3)"/>
<g><ellipse cx="563.2" cy="233.6" rx="8.845829823083404" ry="13.058129738837406" transform="rotate(20 563.2 233.6)"/>
<ellipse class="n" cx="564.4000000000001" cy="234.1" rx="8.256107834877843" ry="12.299915754001686" transform="rotate(20 564.4000000000001 234.1)"/>
<polygon points="573.60,239.35 566.83,244.99 561.02,241.04 562.00,231.45 568.77,225.81 574.58,229.76"/>
<line x1="561.02" y1="241.04" x2="559.02" y2="240.14"/>
<line x1="562.00" y1="231.45" x2="560.00" y2="230.55"/>
<line x1="568.77" y1="225.81" x2="566.77" y2="224.91"/>
<ellipse cx="570.2" cy="236.6" rx="5.22" ry="7.41" transform="rotate(20 570.2 236.6)"/>
<ellipse cx="570.8" cy="236.9" rx="3.54" ry="5.22" transform="rotate(20 570.8 236.9)"/></g>
<g><ellipse cx="457.0" cy="875.8" rx="8.845829823083404" ry="13.058129738837406" transform="rotate(20 457.0 875.8)"/>
<ellipse class="n" cx="458.2" cy="876.3" rx="8.256107834877843" ry="12.299915754001686" transform="rotate(20 458.2 876.3)"/>
<polygon points="467.40,881.55 460.63,887.19 454.82,883.24 455.80,873.65 462.57,868.01 468.38,871.96"/>
<line x1="454.82" y1="883.24" x2="452.82" y2="882.34"/>
<line x1="455.80" y1="873.65" x2="453.80" y2="872.75"/>
<line x1="462.57" y1="868.01" x2="460.57" y2="867.11"/>
<ellipse cx="464.0" cy="878.8" rx="5.22" ry="7.41" transform="rotate(20 464.0 878.8)"/>
<ellipse cx="464.6" cy="879.1" rx="3.54" ry="5.22" transform="rotate(20 464.6 879.1)"/></g></g>
<g id="seat"><polygon points="176.7,592.0 176.5,593.8 176.0,595.7 175.0,597.4 173.7,599.2 172.1,600.8 170.2,602.3 167.9,603.8 165.4,605.1 162.6,606.2 159.6,607.2 156.4,608.1 153.1,608.7 149.6,609.2 146.1,609.5 142.5,609.6 138.9,609.5 135.4,609.2 131.9,608.7 128.6,608.1 125.4,607.2 122.4,606.2 119.6,605.1 117.1,603.8 114.8,602.3 112.9,600.8 111.3,599.2 110.0,597.4 109.0,595.7 108.5,593.8 108.3,592.0 108.3,595.4 108.5,597.2 109.0,599.1 110.0,600.8 111.3,602.6 112.9,604.2 114.8,605.7 117.1,607.2 119.6,608.5 122.4,609.6 125.4,610.6 128.6,611.5 131.9,612.1 135.4,612.6 138.9,612.9 142.5,613.0 146.1,612.9 149.6,612.6 153.1,612.1 156.4,611.5 159.6,610.6 162.6,609.6 165.4,608.5 167.9,607.2 170.2,605.7 172.1,604.2 173.7,602.6 175.0,600.8 176.0,599.1 176.5,597.2 176.7,595.4" stroke="none"/><polyline class="n" points="176.7,595.4 176.5,597.2 176.0,599.1 175.0,600.8 173.7,602.6 172.1,604.2 170.2,605.7 167.9,607.2 165.4,608.5 162.6,609.6 159.6,610.6 156.4,611.5 153.1,612.1 149.6,612.6 146.1,612.9 142.5,613.0 138.9,612.9 135.4,612.6 131.9,612.1 128.6,611.5 125.4,610.6 122.4,609.6 119.6,608.5 117.1,607.2 114.8,605.7 112.9,604.2 111.3,602.6 110.0,600.8 109.0,599.1 108.5,597.2 108.3,595.4"/>
<polygon points="174.4,585.7 175.5,587.4 176.3,589.2 176.7,591.1 176.7,592.9 176.3,594.8 175.5,596.6 174.4,598.3 173.0,600.0 171.2,601.6 169.1,603.1 166.7,604.4 164.0,605.7 161.1,606.8 158.0,607.7 154.8,608.4 151.4,609.0 147.9,609.4 144.3,609.6 140.7,609.6 137.1,609.4 133.6,609.0 130.2,608.4 127.0,607.7 123.9,606.8 121.0,605.7 118.3,604.4 115.9,603.1 113.8,601.6 112.0,600.0 110.6,598.3 109.5,596.6 108.7,594.8 108.3,592.9 108.3,591.1 108.7,589.2 109.5,587.4 110.6,585.7 112.0,584.0 113.8,582.4 115.9,580.9 118.3,579.6 121.0,578.3 123.9,577.2 127.0,576.3 130.2,575.6 133.6,575.0 137.1,574.6 140.7,574.4 144.3,574.4 147.9,574.6 151.4,575.0 154.8,575.6 158.0,576.3 151.8,583.6 149.8,583.2 147.8,582.9 145.7,582.7 143.6,582.6 141.4,582.6 139.3,582.7 137.2,582.9 135.2,583.2 133.2,583.6 131.3,584.1 129.6,584.7 128.0,585.4 126.6,586.1 125.3,586.9 124.2,587.7 123.4,588.6 122.7,589.6 122.3,590.5 122.0,591.5 122.0,592.5 122.3,593.5 122.7,594.4 123.4,595.4 124.2,596.3 125.3,597.1 126.6,597.9 128.0,598.6 129.6,599.3 131.3,599.9 133.2,600.4 135.2,600.8 137.2,601.1 139.3,601.3 141.4,601.4 143.6,601.4 145.7,601.3 147.8,601.1 149.8,600.8 151.8,600.4 153.7,599.9 155.4,599.3 157.0,598.6 158.4,597.9 159.7,597.1 160.8,596.3 161.6,595.4 162.3,594.4 162.7,593.5 163.0,592.5 163.0,591.5 162.7,590.5 162.3,589.6 161.6,588.6"/>
<polygon points="122.0,589.4 122.1,588.4 122.5,587.4 123.1,586.4 123.9,585.5 124.9,584.6 126.1,583.7 127.5,583.0 129.1,582.3 130.9,581.7 132.7,581.1 134.7,580.7 136.8,580.4 139.0,580.1 141.1,580.0 143.3,580.0 145.5,580.1 147.7,580.3 149.8,580.6 151.8,581.0 151.8,585.7 149.8,585.3 147.7,584.9 145.5,584.7 143.3,584.6 141.1,584.7 139.0,584.8 136.8,585.0 134.7,585.3 132.7,585.8 130.9,586.3 129.1,586.9 127.5,587.6 126.1,588.4 124.9,589.2 123.9,590.1 123.1,591.1 122.5,592.0 122.1,593.0 122.0,594.0" stroke="none"/><polyline class="n" points="122.0,594.0 122.1,593.0 122.5,592.0 123.1,591.1 123.9,590.1 124.9,589.2 126.1,588.4 127.5,587.6 129.1,586.9 130.9,586.3 132.7,585.8 134.7,585.3 136.8,585.0 139.0,584.8 141.1,584.7 143.3,584.6 145.5,584.7 147.7,584.9 149.8,585.3 151.8,585.7"/>
<polygon points="170.5,589.4 170.3,590.8 169.9,592.2 169.1,593.6 168.1,594.9 166.7,596.2 165.2,597.4 163.3,598.5 161.2,599.5 159.0,600.4 156.5,601.2 153.9,601.8 151.2,602.3 148.3,602.7 145.4,602.9 142.5,603.0 139.6,602.9 136.7,602.7 133.8,602.3 131.1,601.8 128.5,601.2 126.0,600.4 123.8,599.5 121.7,598.5 119.8,597.4 118.3,596.2 116.9,594.9 115.9,593.6 115.1,592.2 114.7,590.8 114.5,589.4 114.5,592.0 114.7,593.4 115.1,594.8 115.9,596.2 116.9,597.5 118.3,598.8 119.8,600.0 121.7,601.1 123.8,602.1 126.0,603.0 128.5,603.8 131.1,604.4 133.8,604.9 136.7,605.3 139.6,605.5 142.5,605.6 145.4,605.5 148.3,605.3 151.2,604.9 153.9,604.4 156.5,603.8 159.0,603.0 161.2,602.1 163.3,601.1 165.2,600.0 166.7,598.8 168.1,597.5 169.1,596.2 169.9,594.8 170.3,593.4 170.5,592.0" stroke="none"/><polyline class="n" points="170.5,592.0 170.3,593.4 169.9,594.8 169.1,596.2 168.1,597.5 166.7,598.8 165.2,600.0 163.3,601.1 161.2,602.1 159.0,603.0 156.5,603.8 153.9,604.4 151.2,604.9 148.3,605.3 145.4,605.5 142.5,605.6 139.6,605.5 136.7,605.3 133.8,604.9 131.1,604.4 128.5,603.8 126.0,603.0 123.8,602.1 121.7,601.1 119.8,600.0 118.3,598.8 116.9,597.5 115.9,596.2 115.1,594.8 114.7,593.4 114.5,592.0"/>
<polygon points="168.6,584.5 169.5,585.9 170.2,587.3 170.5,588.7 170.5,590.1 170.2,591.5 169.5,592.9 168.6,594.3 167.4,595.6 166.0,596.8 164.3,598.0 162.3,599.0 160.1,600.0 157.7,600.8 155.2,601.5 152.5,602.1 149.7,602.5 146.9,602.8 144.0,603.0 141.0,603.0 138.1,602.8 135.3,602.5 132.5,602.1 129.8,601.5 127.3,600.8 124.9,600.0 122.7,599.0 120.7,598.0 119.0,596.8 117.6,595.6 116.4,594.3 115.5,592.9 114.8,591.5 114.5,590.1 114.5,588.7 114.8,587.3 115.5,585.9 116.4,584.5 117.6,583.2 119.0,582.0 120.7,580.8 122.7,579.8 124.9,578.8 127.3,578.0 129.8,577.3 132.5,576.7 135.3,576.3 138.1,576.0 141.0,575.8 144.0,575.8 146.9,576.0 149.7,576.3 152.5,576.7 155.2,577.3 151.8,581.0 149.8,580.6 147.8,580.3 145.7,580.1 143.6,580.0 141.4,580.0 139.3,580.1 137.2,580.3 135.2,580.6 133.2,581.0 131.3,581.5 129.6,582.1 128.0,582.8 126.6,583.5 125.3,584.3 124.2,585.1 123.4,586.0 122.7,587.0 122.3,587.9 122.0,588.9 122.0,589.9 122.3,590.9 122.7,591.8 123.4,592.8 124.2,593.7 125.3,594.5 126.6,595.3 128.0,596.0 129.6,596.7 131.3,597.3 133.2,597.8 135.2,598.2 137.2,598.5 139.3,598.7 141.4,598.8 143.6,598.8 145.7,598.7 147.8,598.5 149.8,598.2 151.8,597.8 153.7,597.3 155.4,596.7 157.0,596.0 158.4,595.3 159.7,594.5 160.8,593.7 161.6,592.8 162.3,591.8 162.7,590.9 163.0,589.9 163.0,588.9 162.7,587.9 162.3,587.0 161.6,586.0"/>
<polygon points="158.0,576.3 158.0,579.7 151.8,587.0 151.8,583.6"/></g>
</g>
<g class="lead">
<line x1="209" y1="95" x2="245.4" y2="65.5"/>
<line x1="317" y1="42" x2="320" y2="80"/>
<line x1="380.2" y1="117.1" x2="417.4" y2="103.5"/>
<line x1="422.3" y1="103.5" x2="435.4" y2="147"/>
<line x1="538.5" y1="170" x2="508" y2="191"/>
<line x1="573.5" y1="240" x2="601" y2="280"/>
<line x1="75" y1="288" x2="120.3" y2="307.4"/>
<line x1="395" y1="357" x2="443" y2="371"/>
<line x1="75" y1="630" x2="114" y2="605"/>
<line x1="147" y1="769" x2="188" y2="733"/>
<line x1="218.5" y1="800.5" x2="245.8" y2="777"/>
<line x1="298.5" y1="800" x2="305.6" y2="836"/>
<line x1="316" y1="834.5" x2="354.7" y2="828.5"/>
<line x1="407.2" y1="861" x2="411" y2="893"/>
<line x1="467" y1="872" x2="517" y2="853"/>
</g>
<g class="lab">
<text x="199.2" y="104.6" text-anchor="middle">3</text>
<text x="316.7" y="31.6" text-anchor="middle">5</text>
<text x="429.7" y="93.6" text-anchor="middle">7</text>
<text x="552.2" y="164.6" text-anchor="middle">5</text>
<text x="609.7" y="294.6" text-anchor="middle">1</text>
<text x="61.2" y="290.6" text-anchor="middle">4</text>
<text x="454.7" y="378.6" text-anchor="middle">6</text>
<text x="65.2" y="641.1" text-anchor="middle">2</text>
<text x="136.2" y="780.6" text-anchor="middle">3</text>
<text x="205.7" y="822.1" text-anchor="middle">5</text>
<text x="300.2" y="855.6" text-anchor="middle">7</text>
<text x="417.2" y="914.6" text-anchor="middle">5</text>
<text x="528.2" y="852.6" text-anchor="middle">1</text>
</g>
<text class="copy" y="488"><tspan x="481.6" style="font-size:19.6px">©</tspan><tspan x="496.8" textLength="189.8" lengthAdjust="spacingAndGlyphs"> 2008 Polaris Sales Inc.</tspan></text>
<g class="wm" transform="translate(76.1,899.5) rotate(-54.31)">
<text class="wa" y="0"><tspan x="-4" style="font-size:70px;letter-spacing:-5px" textLength="196" lengthAdjust="spacingAndGlyphs">www</tspan><tspan x="195.34699999999998" textLength="716.2164" lengthAdjust="spacingAndGlyphs">.polarisersatzteile</tspan><tspan x="911.5634" textLength="116.3" lengthAdjust="spacingAndGlyphs">.de</tspan></text>
</g>
</svg>
</body></html>
